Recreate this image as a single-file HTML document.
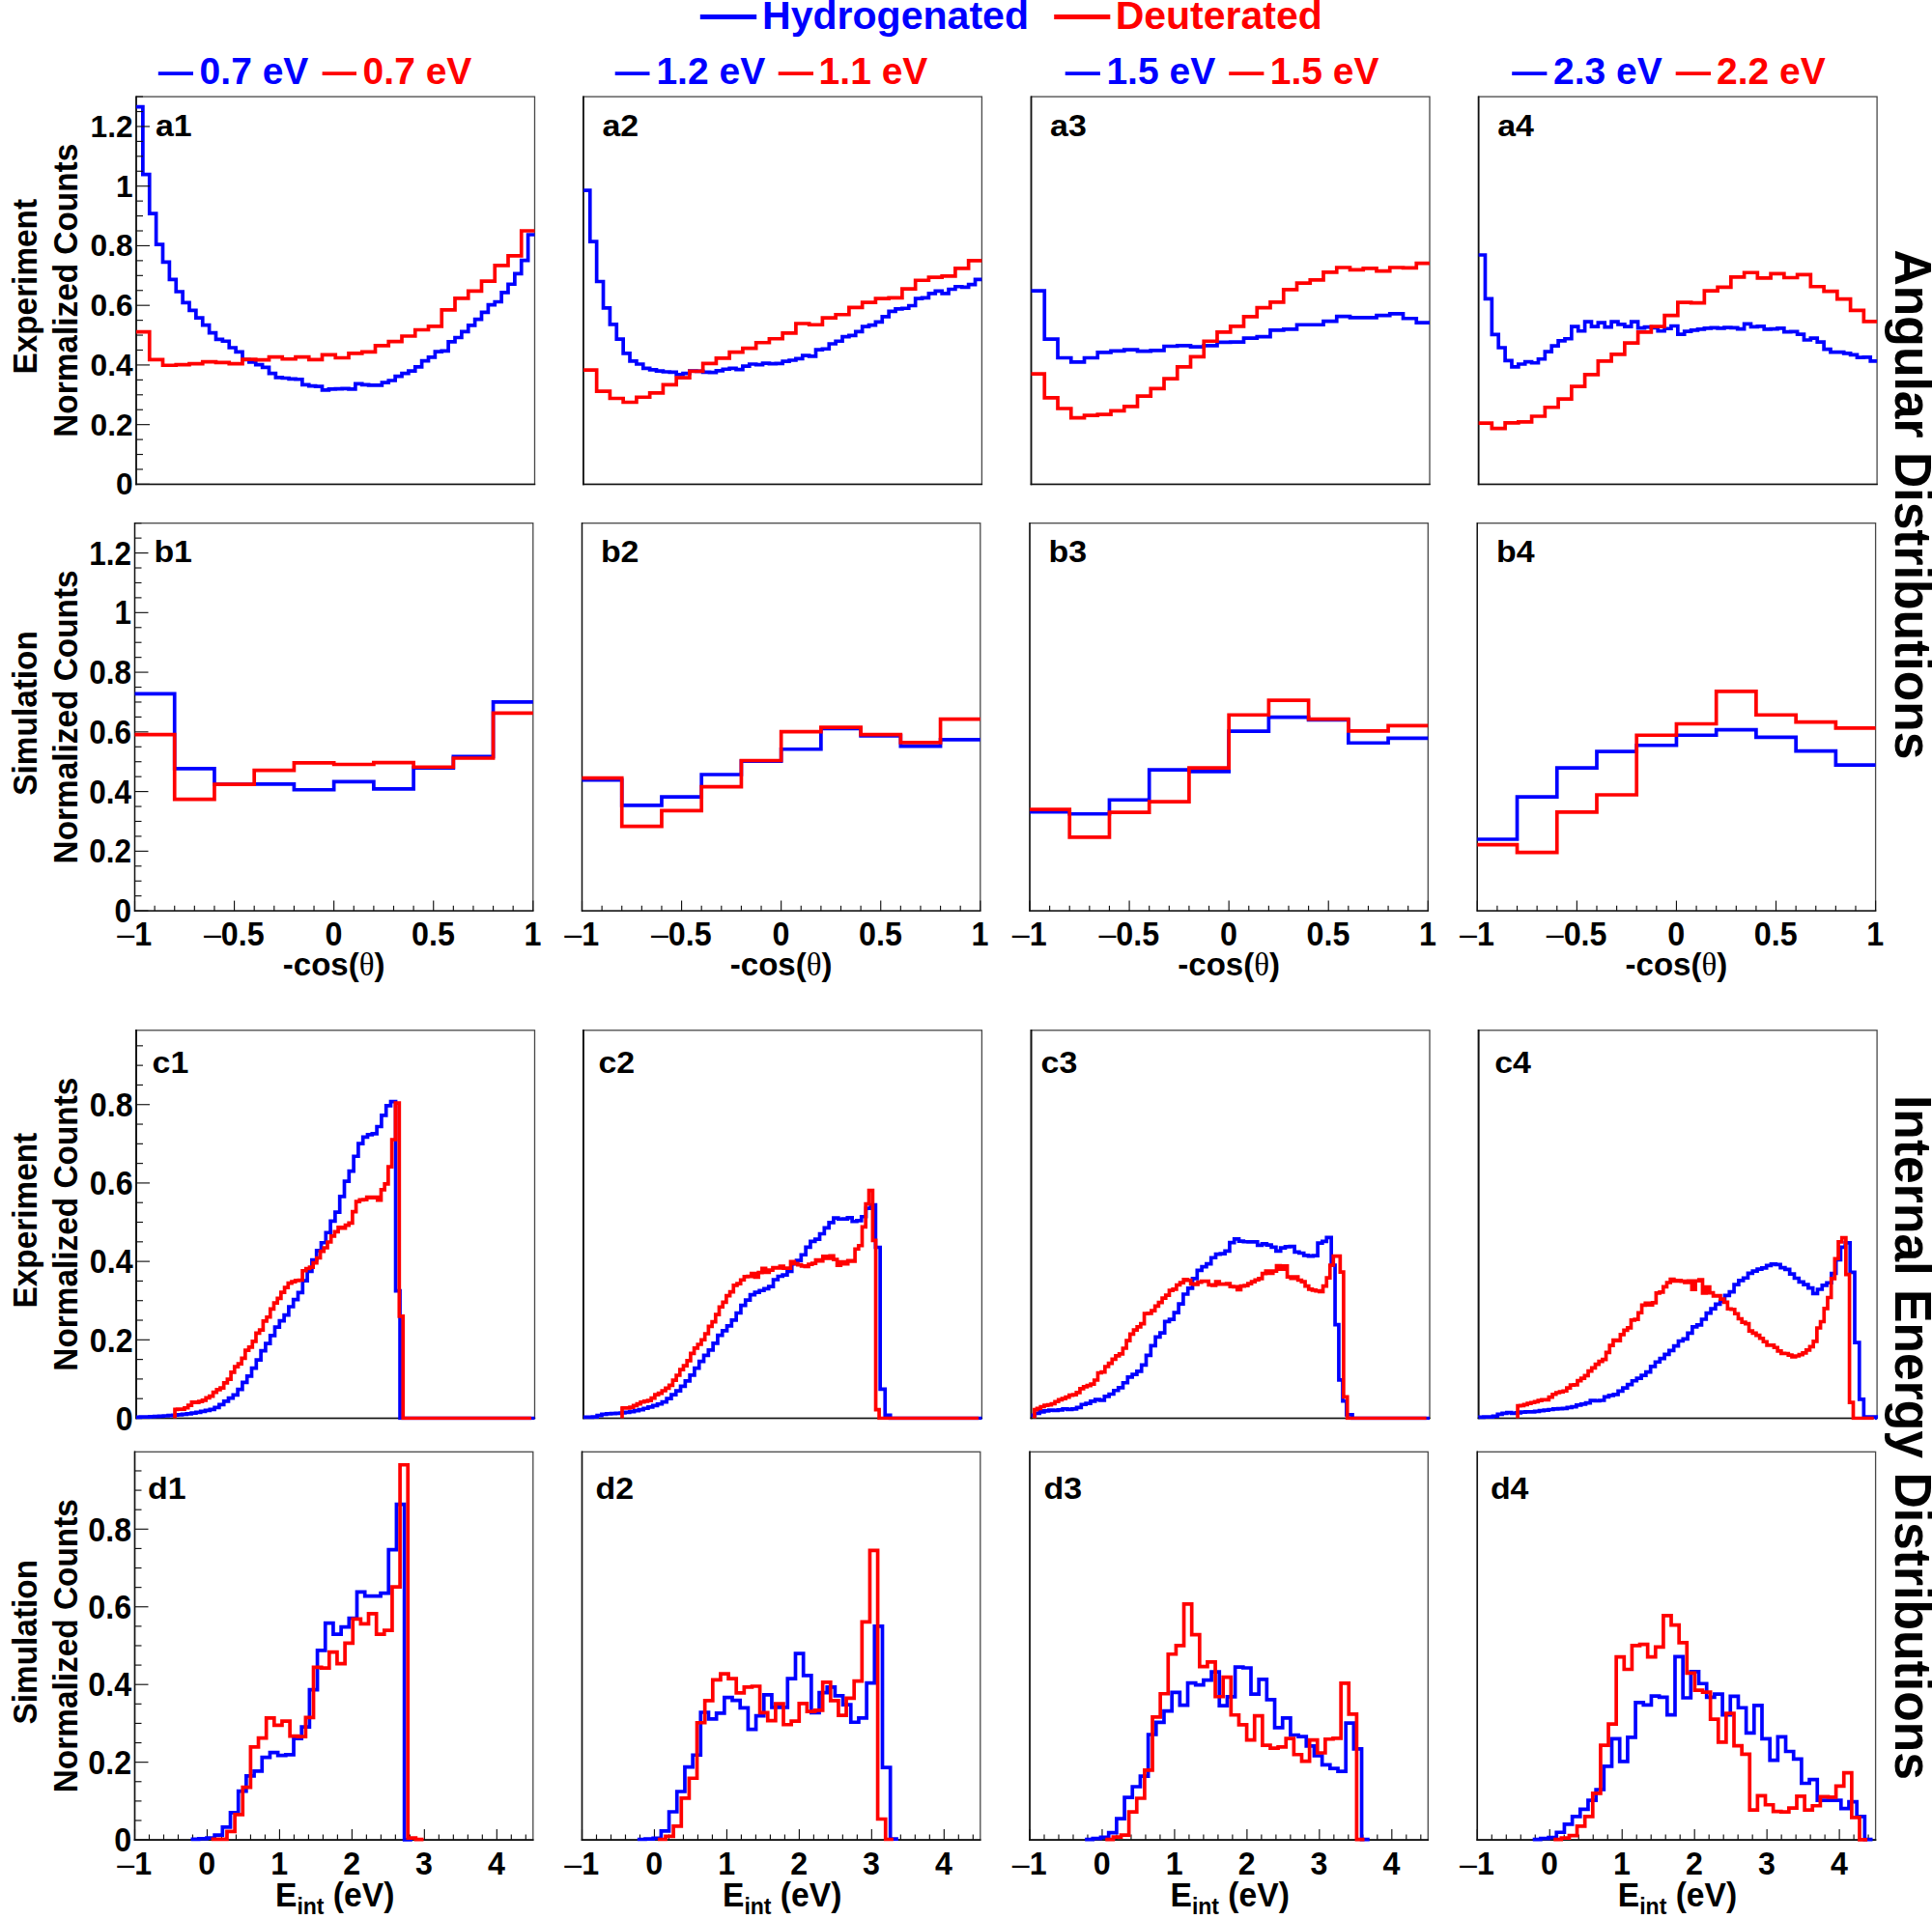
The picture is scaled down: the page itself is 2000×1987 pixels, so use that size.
<!DOCTYPE html>
<html lang="en"><head><meta charset="utf-8"><title>Angular and Internal Energy Distributions</title>
<style>html,body{margin:0;padding:0;background:#fff;}svg{display:block;}</style></head>
<body>
<svg width="2000" height="1987" viewBox="0 0 2000 1987" font-family="'Liberation Sans', Arial, Helvetica, sans-serif" font-weight="bold">
<rect x="0" y="0" width="2000" height="1987" fill="#ffffff"/>
<defs>
<clipPath id="cp_a1"><rect x="140.5" y="98.1" width="414" height="405.3"/></clipPath>
<clipPath id="cp_a2"><rect x="603.4" y="98.1" width="414" height="405.3"/></clipPath>
<clipPath id="cp_a3"><rect x="1067" y="98.1" width="414" height="405.3"/></clipPath>
<clipPath id="cp_a4"><rect x="1530.1" y="98.1" width="414" height="405.3"/></clipPath>
<clipPath id="cp_b1"><rect x="139" y="539.7" width="413.8" height="405.4"/></clipPath>
<clipPath id="cp_b2"><rect x="602" y="539.7" width="413.8" height="405.4"/></clipPath>
<clipPath id="cp_b3"><rect x="1065.5" y="539.7" width="413.8" height="405.4"/></clipPath>
<clipPath id="cp_b4"><rect x="1528.8" y="539.7" width="413.8" height="405.4"/></clipPath>
<clipPath id="cp_c1"><rect x="140.5" y="1064.8" width="414" height="405.7"/></clipPath>
<clipPath id="cp_c2"><rect x="603.4" y="1064.8" width="414" height="405.7"/></clipPath>
<clipPath id="cp_c3"><rect x="1067" y="1064.8" width="414" height="405.7"/></clipPath>
<clipPath id="cp_c4"><rect x="1530.1" y="1064.8" width="414" height="405.7"/></clipPath>
<clipPath id="cp_d1"><rect x="139" y="1501.3" width="413.8" height="405.8"/></clipPath>
<clipPath id="cp_d2"><rect x="602" y="1501.3" width="413.8" height="405.8"/></clipPath>
<clipPath id="cp_d3"><rect x="1065.5" y="1501.3" width="413.8" height="405.8"/></clipPath>
<clipPath id="cp_d4"><rect x="1528.8" y="1501.3" width="413.8" height="405.8"/></clipPath>
</defs>
<rect x="141" y="100.1" width="412.5" height="401.3" fill="none" stroke="#484848" stroke-width="1.3"/>
<line x1="141" y1="99.4" x2="141" y2="502.15" stroke="#111111" stroke-width="1.7"/>
<line x1="140.15" y1="501.4" x2="554.2" y2="501.4" stroke="#111111" stroke-width="1.5"/>
<rect x="603.9" y="100.1" width="412.5" height="401.3" fill="none" stroke="#484848" stroke-width="1.3"/>
<line x1="603.9" y1="99.4" x2="603.9" y2="502.15" stroke="#111111" stroke-width="1.7"/>
<line x1="603.05" y1="501.4" x2="1017.1" y2="501.4" stroke="#111111" stroke-width="1.5"/>
<rect x="1067.5" y="100.1" width="412.5" height="401.3" fill="none" stroke="#484848" stroke-width="1.3"/>
<line x1="1067.5" y1="99.4" x2="1067.5" y2="502.15" stroke="#111111" stroke-width="1.7"/>
<line x1="1066.65" y1="501.4" x2="1480.7" y2="501.4" stroke="#111111" stroke-width="1.5"/>
<rect x="1530.6" y="100.1" width="412.5" height="401.3" fill="none" stroke="#484848" stroke-width="1.3"/>
<line x1="1530.6" y1="99.4" x2="1530.6" y2="502.15" stroke="#111111" stroke-width="1.7"/>
<line x1="1529.75" y1="501.4" x2="1943.8" y2="501.4" stroke="#111111" stroke-width="1.5"/>
<text transform="translate(137.6 512.35)" font-size="31.7" text-anchor="end">0</text>
<text transform="translate(137.6 450.61)" font-size="31.7" text-anchor="end">0.2</text>
<text transform="translate(137.6 388.87)" font-size="31.7" text-anchor="end">0.4</text>
<text transform="translate(137.6 327.13)" font-size="31.7" text-anchor="end">0.6</text>
<text transform="translate(137.6 265.39)" font-size="31.7" text-anchor="end">0.8</text>
<text transform="translate(137.6 203.66)" font-size="31.7" text-anchor="end">1</text>
<text transform="translate(137.6 141.92)" font-size="31.7" text-anchor="end">1.2</text>
<rect x="139.5" y="541.7" width="412.3" height="401.4" fill="none" stroke="#484848" stroke-width="1.3"/>
<line x1="139.5" y1="541" x2="139.5" y2="943.7" stroke="#111111" stroke-width="1.3"/>
<line x1="138.85" y1="943.1" x2="552.5" y2="943.1" stroke="#111111" stroke-width="1.2"/>
<rect x="602.5" y="541.7" width="412.3" height="401.4" fill="none" stroke="#484848" stroke-width="1.3"/>
<line x1="602.5" y1="541" x2="602.5" y2="943.7" stroke="#111111" stroke-width="1.3"/>
<line x1="601.85" y1="943.1" x2="1015.5" y2="943.1" stroke="#111111" stroke-width="1.2"/>
<rect x="1066" y="541.7" width="412.3" height="401.4" fill="none" stroke="#484848" stroke-width="1.3"/>
<line x1="1066" y1="541" x2="1066" y2="943.7" stroke="#111111" stroke-width="1.3"/>
<line x1="1065.35" y1="943.1" x2="1479" y2="943.1" stroke="#111111" stroke-width="1.2"/>
<rect x="1529.3" y="541.7" width="412.3" height="401.4" fill="none" stroke="#484848" stroke-width="1.3"/>
<line x1="1529.3" y1="541" x2="1529.3" y2="943.7" stroke="#111111" stroke-width="1.3"/>
<line x1="1528.65" y1="943.1" x2="1942.3" y2="943.1" stroke="#111111" stroke-width="1.2"/>
<line x1="139.5" y1="943.1" x2="153.5" y2="943.1" stroke="#111111" stroke-width="1.15"/>
<line x1="139.5" y1="927.66" x2="146.5" y2="927.66" stroke="#111111" stroke-width="1.15"/>
<line x1="139.5" y1="912.22" x2="146.5" y2="912.22" stroke="#111111" stroke-width="1.15"/>
<line x1="139.5" y1="896.78" x2="146.5" y2="896.78" stroke="#111111" stroke-width="1.15"/>
<line x1="139.5" y1="881.35" x2="153.5" y2="881.35" stroke="#111111" stroke-width="1.15"/>
<line x1="139.5" y1="865.91" x2="146.5" y2="865.91" stroke="#111111" stroke-width="1.15"/>
<line x1="139.5" y1="850.47" x2="146.5" y2="850.47" stroke="#111111" stroke-width="1.15"/>
<line x1="139.5" y1="835.03" x2="146.5" y2="835.03" stroke="#111111" stroke-width="1.15"/>
<line x1="139.5" y1="819.59" x2="153.5" y2="819.59" stroke="#111111" stroke-width="1.15"/>
<line x1="139.5" y1="804.15" x2="146.5" y2="804.15" stroke="#111111" stroke-width="1.15"/>
<line x1="139.5" y1="788.72" x2="146.5" y2="788.72" stroke="#111111" stroke-width="1.15"/>
<line x1="139.5" y1="773.28" x2="146.5" y2="773.28" stroke="#111111" stroke-width="1.15"/>
<line x1="139.5" y1="757.84" x2="153.5" y2="757.84" stroke="#111111" stroke-width="1.15"/>
<line x1="139.5" y1="742.4" x2="146.5" y2="742.4" stroke="#111111" stroke-width="1.15"/>
<line x1="139.5" y1="726.96" x2="146.5" y2="726.96" stroke="#111111" stroke-width="1.15"/>
<line x1="139.5" y1="711.52" x2="146.5" y2="711.52" stroke="#111111" stroke-width="1.15"/>
<line x1="139.5" y1="696.08" x2="153.5" y2="696.08" stroke="#111111" stroke-width="1.15"/>
<line x1="139.5" y1="680.65" x2="146.5" y2="680.65" stroke="#111111" stroke-width="1.15"/>
<line x1="139.5" y1="665.21" x2="146.5" y2="665.21" stroke="#111111" stroke-width="1.15"/>
<line x1="139.5" y1="649.77" x2="146.5" y2="649.77" stroke="#111111" stroke-width="1.15"/>
<line x1="139.5" y1="634.33" x2="153.5" y2="634.33" stroke="#111111" stroke-width="1.15"/>
<line x1="139.5" y1="618.89" x2="146.5" y2="618.89" stroke="#111111" stroke-width="1.15"/>
<line x1="139.5" y1="603.45" x2="146.5" y2="603.45" stroke="#111111" stroke-width="1.15"/>
<line x1="139.5" y1="588.02" x2="146.5" y2="588.02" stroke="#111111" stroke-width="1.15"/>
<line x1="139.5" y1="572.58" x2="153.5" y2="572.58" stroke="#111111" stroke-width="1.15"/>
<line x1="139.5" y1="557.14" x2="146.5" y2="557.14" stroke="#111111" stroke-width="1.15"/>
<line x1="139.5" y1="541.7" x2="146.5" y2="541.7" stroke="#111111" stroke-width="1.15"/>
<text transform="translate(136.1 955.09) scale(0.9100 1)" font-size="34.6" text-anchor="end">0</text>
<text transform="translate(136.1 893.33) scale(0.9100 1)" font-size="34.6" text-anchor="end">0.2</text>
<text transform="translate(136.1 831.58) scale(0.9100 1)" font-size="34.6" text-anchor="end">0.4</text>
<text transform="translate(136.1 769.83) scale(0.9100 1)" font-size="34.6" text-anchor="end">0.6</text>
<text transform="translate(136.1 708.07) scale(0.9100 1)" font-size="34.6" text-anchor="end">0.8</text>
<text transform="translate(136.1 646.32) scale(0.9100 1)" font-size="34.6" text-anchor="end">1</text>
<text transform="translate(136.1 584.56) scale(0.9100 1)" font-size="34.6" text-anchor="end">1.2</text>
<rect x="141" y="1066.8" width="412.5" height="401.7" fill="none" stroke="#484848" stroke-width="1.3"/>
<line x1="141" y1="1066.1" x2="141" y2="1469.25" stroke="#111111" stroke-width="1.9"/>
<line x1="140.05" y1="1468.5" x2="554.2" y2="1468.5" stroke="#111111" stroke-width="1.5"/>
<rect x="603.9" y="1066.8" width="412.5" height="401.7" fill="none" stroke="#484848" stroke-width="1.3"/>
<line x1="603.9" y1="1066.1" x2="603.9" y2="1469.25" stroke="#111111" stroke-width="1.9"/>
<line x1="602.95" y1="1468.5" x2="1017.1" y2="1468.5" stroke="#111111" stroke-width="1.5"/>
<rect x="1067.5" y="1066.8" width="412.5" height="401.7" fill="none" stroke="#484848" stroke-width="1.3"/>
<line x1="1067.5" y1="1066.1" x2="1067.5" y2="1469.25" stroke="#111111" stroke-width="1.9"/>
<line x1="1066.55" y1="1468.5" x2="1480.7" y2="1468.5" stroke="#111111" stroke-width="1.5"/>
<rect x="1530.6" y="1066.8" width="412.5" height="401.7" fill="none" stroke="#484848" stroke-width="1.3"/>
<line x1="1530.6" y1="1066.1" x2="1530.6" y2="1469.25" stroke="#111111" stroke-width="1.9"/>
<line x1="1529.65" y1="1468.5" x2="1943.8" y2="1468.5" stroke="#111111" stroke-width="1.5"/>
<line x1="141" y1="1468.5" x2="155" y2="1468.5" stroke="#111111" stroke-width="1.15"/>
<line x1="141" y1="1448.2" x2="148" y2="1448.2" stroke="#111111" stroke-width="1.15"/>
<line x1="141" y1="1427.9" x2="148" y2="1427.9" stroke="#111111" stroke-width="1.15"/>
<line x1="141" y1="1407.61" x2="148" y2="1407.61" stroke="#111111" stroke-width="1.15"/>
<line x1="141" y1="1387.31" x2="155" y2="1387.31" stroke="#111111" stroke-width="1.15"/>
<line x1="141" y1="1367.01" x2="148" y2="1367.01" stroke="#111111" stroke-width="1.15"/>
<line x1="141" y1="1346.71" x2="148" y2="1346.71" stroke="#111111" stroke-width="1.15"/>
<line x1="141" y1="1326.41" x2="148" y2="1326.41" stroke="#111111" stroke-width="1.15"/>
<line x1="141" y1="1306.11" x2="155" y2="1306.11" stroke="#111111" stroke-width="1.15"/>
<line x1="141" y1="1285.82" x2="148" y2="1285.82" stroke="#111111" stroke-width="1.15"/>
<line x1="141" y1="1265.52" x2="148" y2="1265.52" stroke="#111111" stroke-width="1.15"/>
<line x1="141" y1="1245.22" x2="148" y2="1245.22" stroke="#111111" stroke-width="1.15"/>
<line x1="141" y1="1224.92" x2="155" y2="1224.92" stroke="#111111" stroke-width="1.15"/>
<line x1="141" y1="1204.62" x2="148" y2="1204.62" stroke="#111111" stroke-width="1.15"/>
<line x1="141" y1="1184.33" x2="148" y2="1184.33" stroke="#111111" stroke-width="1.15"/>
<line x1="141" y1="1164.03" x2="148" y2="1164.03" stroke="#111111" stroke-width="1.15"/>
<line x1="141" y1="1143.73" x2="155" y2="1143.73" stroke="#111111" stroke-width="1.15"/>
<line x1="141" y1="1123.43" x2="148" y2="1123.43" stroke="#111111" stroke-width="1.15"/>
<line x1="141" y1="1103.13" x2="148" y2="1103.13" stroke="#111111" stroke-width="1.15"/>
<line x1="141" y1="1082.84" x2="148" y2="1082.84" stroke="#111111" stroke-width="1.15"/>
<text transform="translate(137.6 1480.77) scale(0.9100 1)" font-size="35.4" text-anchor="end">0</text>
<text transform="translate(137.6 1399.58) scale(0.9100 1)" font-size="35.4" text-anchor="end">0.2</text>
<text transform="translate(137.6 1318.39) scale(0.9100 1)" font-size="35.4" text-anchor="end">0.4</text>
<text transform="translate(137.6 1237.2) scale(0.9100 1)" font-size="35.4" text-anchor="end">0.6</text>
<text transform="translate(137.6 1156) scale(0.9100 1)" font-size="35.4" text-anchor="end">0.8</text>
<rect x="139.5" y="1503.3" width="412.3" height="401.8" fill="none" stroke="#484848" stroke-width="1.3"/>
<line x1="139.5" y1="1502.6" x2="139.5" y2="1905.9" stroke="#111111" stroke-width="1.5"/>
<line x1="138.75" y1="1905.1" x2="552.5" y2="1905.1" stroke="#111111" stroke-width="1.6"/>
<rect x="602.5" y="1503.3" width="412.3" height="401.8" fill="none" stroke="#484848" stroke-width="1.3"/>
<line x1="602.5" y1="1502.6" x2="602.5" y2="1905.9" stroke="#111111" stroke-width="1.5"/>
<line x1="601.75" y1="1905.1" x2="1015.5" y2="1905.1" stroke="#111111" stroke-width="1.6"/>
<rect x="1066" y="1503.3" width="412.3" height="401.8" fill="none" stroke="#484848" stroke-width="1.3"/>
<line x1="1066" y1="1502.6" x2="1066" y2="1905.9" stroke="#111111" stroke-width="1.5"/>
<line x1="1065.25" y1="1905.1" x2="1479" y2="1905.1" stroke="#111111" stroke-width="1.6"/>
<rect x="1529.3" y="1503.3" width="412.3" height="401.8" fill="none" stroke="#484848" stroke-width="1.3"/>
<line x1="1529.3" y1="1502.6" x2="1529.3" y2="1905.9" stroke="#111111" stroke-width="1.5"/>
<line x1="1528.55" y1="1905.1" x2="1942.3" y2="1905.1" stroke="#111111" stroke-width="1.6"/>
<line x1="139.5" y1="1905.1" x2="153.5" y2="1905.1" stroke="#111111" stroke-width="1.15"/>
<line x1="139.5" y1="1884.99" x2="146.5" y2="1884.99" stroke="#111111" stroke-width="1.15"/>
<line x1="139.5" y1="1864.88" x2="146.5" y2="1864.88" stroke="#111111" stroke-width="1.15"/>
<line x1="139.5" y1="1844.76" x2="146.5" y2="1844.76" stroke="#111111" stroke-width="1.15"/>
<line x1="139.5" y1="1824.65" x2="153.5" y2="1824.65" stroke="#111111" stroke-width="1.15"/>
<line x1="139.5" y1="1804.54" x2="146.5" y2="1804.54" stroke="#111111" stroke-width="1.15"/>
<line x1="139.5" y1="1784.43" x2="146.5" y2="1784.43" stroke="#111111" stroke-width="1.15"/>
<line x1="139.5" y1="1764.32" x2="146.5" y2="1764.32" stroke="#111111" stroke-width="1.15"/>
<line x1="139.5" y1="1744.2" x2="153.5" y2="1744.2" stroke="#111111" stroke-width="1.15"/>
<line x1="139.5" y1="1724.09" x2="146.5" y2="1724.09" stroke="#111111" stroke-width="1.15"/>
<line x1="139.5" y1="1703.98" x2="146.5" y2="1703.98" stroke="#111111" stroke-width="1.15"/>
<line x1="139.5" y1="1683.87" x2="146.5" y2="1683.87" stroke="#111111" stroke-width="1.15"/>
<line x1="139.5" y1="1663.75" x2="153.5" y2="1663.75" stroke="#111111" stroke-width="1.15"/>
<line x1="139.5" y1="1643.64" x2="146.5" y2="1643.64" stroke="#111111" stroke-width="1.15"/>
<line x1="139.5" y1="1623.53" x2="146.5" y2="1623.53" stroke="#111111" stroke-width="1.15"/>
<line x1="139.5" y1="1603.42" x2="146.5" y2="1603.42" stroke="#111111" stroke-width="1.15"/>
<line x1="139.5" y1="1583.31" x2="153.5" y2="1583.31" stroke="#111111" stroke-width="1.15"/>
<line x1="139.5" y1="1563.19" x2="146.5" y2="1563.19" stroke="#111111" stroke-width="1.15"/>
<line x1="139.5" y1="1543.08" x2="146.5" y2="1543.08" stroke="#111111" stroke-width="1.15"/>
<line x1="139.5" y1="1522.97" x2="146.5" y2="1522.97" stroke="#111111" stroke-width="1.15"/>
<text transform="translate(136.1 1917.37) scale(0.9100 1)" font-size="35.4" text-anchor="end">0</text>
<text transform="translate(136.1 1836.92) scale(0.9100 1)" font-size="35.4" text-anchor="end">0.2</text>
<text transform="translate(136.1 1756.48) scale(0.9100 1)" font-size="35.4" text-anchor="end">0.4</text>
<text transform="translate(136.1 1676.03) scale(0.9100 1)" font-size="35.4" text-anchor="end">0.6</text>
<text transform="translate(136.1 1595.58) scale(0.9100 1)" font-size="35.4" text-anchor="end">0.8</text>
<line x1="139.5" y1="943.1" x2="139.5" y2="932.6" stroke="#111111" stroke-width="1.15"/>
<line x1="160.12" y1="943.1" x2="160.12" y2="937.8" stroke="#111111" stroke-width="1.15"/>
<line x1="180.73" y1="943.1" x2="180.73" y2="937.8" stroke="#111111" stroke-width="1.15"/>
<line x1="201.34" y1="943.1" x2="201.34" y2="937.8" stroke="#111111" stroke-width="1.15"/>
<line x1="221.96" y1="943.1" x2="221.96" y2="937.8" stroke="#111111" stroke-width="1.15"/>
<line x1="242.57" y1="943.1" x2="242.57" y2="932.6" stroke="#111111" stroke-width="1.15"/>
<line x1="263.19" y1="943.1" x2="263.19" y2="937.8" stroke="#111111" stroke-width="1.15"/>
<line x1="283.81" y1="943.1" x2="283.81" y2="937.8" stroke="#111111" stroke-width="1.15"/>
<line x1="304.42" y1="943.1" x2="304.42" y2="937.8" stroke="#111111" stroke-width="1.15"/>
<line x1="325.04" y1="943.1" x2="325.04" y2="937.8" stroke="#111111" stroke-width="1.15"/>
<line x1="345.65" y1="943.1" x2="345.65" y2="932.6" stroke="#111111" stroke-width="1.15"/>
<line x1="366.26" y1="943.1" x2="366.26" y2="937.8" stroke="#111111" stroke-width="1.15"/>
<line x1="386.88" y1="943.1" x2="386.88" y2="937.8" stroke="#111111" stroke-width="1.15"/>
<line x1="407.5" y1="943.1" x2="407.5" y2="937.8" stroke="#111111" stroke-width="1.15"/>
<line x1="428.11" y1="943.1" x2="428.11" y2="937.8" stroke="#111111" stroke-width="1.15"/>
<line x1="448.73" y1="943.1" x2="448.73" y2="932.6" stroke="#111111" stroke-width="1.15"/>
<line x1="469.34" y1="943.1" x2="469.34" y2="937.8" stroke="#111111" stroke-width="1.15"/>
<line x1="489.96" y1="943.1" x2="489.96" y2="937.8" stroke="#111111" stroke-width="1.15"/>
<line x1="510.57" y1="943.1" x2="510.57" y2="937.8" stroke="#111111" stroke-width="1.15"/>
<line x1="531.18" y1="943.1" x2="531.18" y2="937.8" stroke="#111111" stroke-width="1.15"/>
<line x1="551.8" y1="943.1" x2="551.8" y2="932.6" stroke="#111111" stroke-width="1.15"/>
<text transform="translate(139.2 978.6) scale(0.9100 1)" font-size="35.4" text-anchor="middle"><tspan font-weight="normal">–</tspan>1</text>
<text transform="translate(242.27 978.6) scale(0.9100 1)" font-size="35.4" text-anchor="middle"><tspan font-weight="normal">–</tspan>0.5</text>
<text transform="translate(345.35 978.6) scale(0.9100 1)" font-size="35.4" text-anchor="middle">0</text>
<text transform="translate(448.43 978.6) scale(0.9100 1)" font-size="35.4" text-anchor="middle">0.5</text>
<text transform="translate(551.5 978.6) scale(0.9100 1)" font-size="35.4" text-anchor="middle">1</text>
<text transform="translate(345.65 1010)" font-size="33" text-anchor="middle">-cos(<tspan font-family="'Liberation Serif', 'DejaVu Serif', serif" font-weight="normal">θ</tspan>)</text>
<line x1="602.5" y1="943.1" x2="602.5" y2="932.6" stroke="#111111" stroke-width="1.15"/>
<line x1="623.12" y1="943.1" x2="623.12" y2="937.8" stroke="#111111" stroke-width="1.15"/>
<line x1="643.73" y1="943.1" x2="643.73" y2="937.8" stroke="#111111" stroke-width="1.15"/>
<line x1="664.35" y1="943.1" x2="664.35" y2="937.8" stroke="#111111" stroke-width="1.15"/>
<line x1="684.96" y1="943.1" x2="684.96" y2="937.8" stroke="#111111" stroke-width="1.15"/>
<line x1="705.58" y1="943.1" x2="705.58" y2="932.6" stroke="#111111" stroke-width="1.15"/>
<line x1="726.19" y1="943.1" x2="726.19" y2="937.8" stroke="#111111" stroke-width="1.15"/>
<line x1="746.81" y1="943.1" x2="746.81" y2="937.8" stroke="#111111" stroke-width="1.15"/>
<line x1="767.42" y1="943.1" x2="767.42" y2="937.8" stroke="#111111" stroke-width="1.15"/>
<line x1="788.04" y1="943.1" x2="788.04" y2="937.8" stroke="#111111" stroke-width="1.15"/>
<line x1="808.65" y1="943.1" x2="808.65" y2="932.6" stroke="#111111" stroke-width="1.15"/>
<line x1="829.26" y1="943.1" x2="829.26" y2="937.8" stroke="#111111" stroke-width="1.15"/>
<line x1="849.88" y1="943.1" x2="849.88" y2="937.8" stroke="#111111" stroke-width="1.15"/>
<line x1="870.5" y1="943.1" x2="870.5" y2="937.8" stroke="#111111" stroke-width="1.15"/>
<line x1="891.11" y1="943.1" x2="891.11" y2="937.8" stroke="#111111" stroke-width="1.15"/>
<line x1="911.73" y1="943.1" x2="911.73" y2="932.6" stroke="#111111" stroke-width="1.15"/>
<line x1="932.34" y1="943.1" x2="932.34" y2="937.8" stroke="#111111" stroke-width="1.15"/>
<line x1="952.96" y1="943.1" x2="952.96" y2="937.8" stroke="#111111" stroke-width="1.15"/>
<line x1="973.57" y1="943.1" x2="973.57" y2="937.8" stroke="#111111" stroke-width="1.15"/>
<line x1="994.18" y1="943.1" x2="994.18" y2="937.8" stroke="#111111" stroke-width="1.15"/>
<line x1="1014.8" y1="943.1" x2="1014.8" y2="932.6" stroke="#111111" stroke-width="1.15"/>
<text transform="translate(602.2 978.6) scale(0.9100 1)" font-size="35.4" text-anchor="middle"><tspan font-weight="normal">–</tspan>1</text>
<text transform="translate(705.28 978.6) scale(0.9100 1)" font-size="35.4" text-anchor="middle"><tspan font-weight="normal">–</tspan>0.5</text>
<text transform="translate(808.35 978.6) scale(0.9100 1)" font-size="35.4" text-anchor="middle">0</text>
<text transform="translate(911.43 978.6) scale(0.9100 1)" font-size="35.4" text-anchor="middle">0.5</text>
<text transform="translate(1014.5 978.6) scale(0.9100 1)" font-size="35.4" text-anchor="middle">1</text>
<text transform="translate(808.65 1010)" font-size="33" text-anchor="middle">-cos(<tspan font-family="'Liberation Serif', 'DejaVu Serif', serif" font-weight="normal">θ</tspan>)</text>
<line x1="1066" y1="943.1" x2="1066" y2="932.6" stroke="#111111" stroke-width="1.15"/>
<line x1="1086.62" y1="943.1" x2="1086.62" y2="937.8" stroke="#111111" stroke-width="1.15"/>
<line x1="1107.23" y1="943.1" x2="1107.23" y2="937.8" stroke="#111111" stroke-width="1.15"/>
<line x1="1127.85" y1="943.1" x2="1127.85" y2="937.8" stroke="#111111" stroke-width="1.15"/>
<line x1="1148.46" y1="943.1" x2="1148.46" y2="937.8" stroke="#111111" stroke-width="1.15"/>
<line x1="1169.08" y1="943.1" x2="1169.08" y2="932.6" stroke="#111111" stroke-width="1.15"/>
<line x1="1189.69" y1="943.1" x2="1189.69" y2="937.8" stroke="#111111" stroke-width="1.15"/>
<line x1="1210.31" y1="943.1" x2="1210.31" y2="937.8" stroke="#111111" stroke-width="1.15"/>
<line x1="1230.92" y1="943.1" x2="1230.92" y2="937.8" stroke="#111111" stroke-width="1.15"/>
<line x1="1251.54" y1="943.1" x2="1251.54" y2="937.8" stroke="#111111" stroke-width="1.15"/>
<line x1="1272.15" y1="943.1" x2="1272.15" y2="932.6" stroke="#111111" stroke-width="1.15"/>
<line x1="1292.77" y1="943.1" x2="1292.77" y2="937.8" stroke="#111111" stroke-width="1.15"/>
<line x1="1313.38" y1="943.1" x2="1313.38" y2="937.8" stroke="#111111" stroke-width="1.15"/>
<line x1="1333.99" y1="943.1" x2="1333.99" y2="937.8" stroke="#111111" stroke-width="1.15"/>
<line x1="1354.61" y1="943.1" x2="1354.61" y2="937.8" stroke="#111111" stroke-width="1.15"/>
<line x1="1375.22" y1="943.1" x2="1375.22" y2="932.6" stroke="#111111" stroke-width="1.15"/>
<line x1="1395.84" y1="943.1" x2="1395.84" y2="937.8" stroke="#111111" stroke-width="1.15"/>
<line x1="1416.45" y1="943.1" x2="1416.45" y2="937.8" stroke="#111111" stroke-width="1.15"/>
<line x1="1437.07" y1="943.1" x2="1437.07" y2="937.8" stroke="#111111" stroke-width="1.15"/>
<line x1="1457.68" y1="943.1" x2="1457.68" y2="937.8" stroke="#111111" stroke-width="1.15"/>
<line x1="1478.3" y1="943.1" x2="1478.3" y2="932.6" stroke="#111111" stroke-width="1.15"/>
<text transform="translate(1065.7 978.6) scale(0.9100 1)" font-size="35.4" text-anchor="middle"><tspan font-weight="normal">–</tspan>1</text>
<text transform="translate(1168.78 978.6) scale(0.9100 1)" font-size="35.4" text-anchor="middle"><tspan font-weight="normal">–</tspan>0.5</text>
<text transform="translate(1271.85 978.6) scale(0.9100 1)" font-size="35.4" text-anchor="middle">0</text>
<text transform="translate(1374.92 978.6) scale(0.9100 1)" font-size="35.4" text-anchor="middle">0.5</text>
<text transform="translate(1478 978.6) scale(0.9100 1)" font-size="35.4" text-anchor="middle">1</text>
<text transform="translate(1272.15 1010)" font-size="33" text-anchor="middle">-cos(<tspan font-family="'Liberation Serif', 'DejaVu Serif', serif" font-weight="normal">θ</tspan>)</text>
<line x1="1529.3" y1="943.1" x2="1529.3" y2="932.6" stroke="#111111" stroke-width="1.15"/>
<line x1="1549.91" y1="943.1" x2="1549.91" y2="937.8" stroke="#111111" stroke-width="1.15"/>
<line x1="1570.53" y1="943.1" x2="1570.53" y2="937.8" stroke="#111111" stroke-width="1.15"/>
<line x1="1591.14" y1="943.1" x2="1591.14" y2="937.8" stroke="#111111" stroke-width="1.15"/>
<line x1="1611.76" y1="943.1" x2="1611.76" y2="937.8" stroke="#111111" stroke-width="1.15"/>
<line x1="1632.38" y1="943.1" x2="1632.38" y2="932.6" stroke="#111111" stroke-width="1.15"/>
<line x1="1652.99" y1="943.1" x2="1652.99" y2="937.8" stroke="#111111" stroke-width="1.15"/>
<line x1="1673.61" y1="943.1" x2="1673.61" y2="937.8" stroke="#111111" stroke-width="1.15"/>
<line x1="1694.22" y1="943.1" x2="1694.22" y2="937.8" stroke="#111111" stroke-width="1.15"/>
<line x1="1714.84" y1="943.1" x2="1714.84" y2="937.8" stroke="#111111" stroke-width="1.15"/>
<line x1="1735.45" y1="943.1" x2="1735.45" y2="932.6" stroke="#111111" stroke-width="1.15"/>
<line x1="1756.07" y1="943.1" x2="1756.07" y2="937.8" stroke="#111111" stroke-width="1.15"/>
<line x1="1776.68" y1="943.1" x2="1776.68" y2="937.8" stroke="#111111" stroke-width="1.15"/>
<line x1="1797.3" y1="943.1" x2="1797.3" y2="937.8" stroke="#111111" stroke-width="1.15"/>
<line x1="1817.91" y1="943.1" x2="1817.91" y2="937.8" stroke="#111111" stroke-width="1.15"/>
<line x1="1838.53" y1="943.1" x2="1838.53" y2="932.6" stroke="#111111" stroke-width="1.15"/>
<line x1="1859.14" y1="943.1" x2="1859.14" y2="937.8" stroke="#111111" stroke-width="1.15"/>
<line x1="1879.76" y1="943.1" x2="1879.76" y2="937.8" stroke="#111111" stroke-width="1.15"/>
<line x1="1900.37" y1="943.1" x2="1900.37" y2="937.8" stroke="#111111" stroke-width="1.15"/>
<line x1="1920.98" y1="943.1" x2="1920.98" y2="937.8" stroke="#111111" stroke-width="1.15"/>
<line x1="1941.6" y1="943.1" x2="1941.6" y2="932.6" stroke="#111111" stroke-width="1.15"/>
<text transform="translate(1529 978.6) scale(0.9100 1)" font-size="35.4" text-anchor="middle"><tspan font-weight="normal">–</tspan>1</text>
<text transform="translate(1632.08 978.6) scale(0.9100 1)" font-size="35.4" text-anchor="middle"><tspan font-weight="normal">–</tspan>0.5</text>
<text transform="translate(1735.15 978.6) scale(0.9100 1)" font-size="35.4" text-anchor="middle">0</text>
<text transform="translate(1838.23 978.6) scale(0.9100 1)" font-size="35.4" text-anchor="middle">0.5</text>
<text transform="translate(1941.3 978.6) scale(0.9100 1)" font-size="35.4" text-anchor="middle">1</text>
<text transform="translate(1735.45 1010)" font-size="33" text-anchor="middle">-cos(<tspan font-family="'Liberation Serif', 'DejaVu Serif', serif" font-weight="normal">θ</tspan>)</text>
<line x1="139.5" y1="1905.1" x2="139.5" y2="1894.1" stroke="#111111" stroke-width="1.15"/>
<line x1="154.49" y1="1905.1" x2="154.49" y2="1899.5" stroke="#111111" stroke-width="1.15"/>
<line x1="169.49" y1="1905.1" x2="169.49" y2="1899.5" stroke="#111111" stroke-width="1.15"/>
<line x1="184.48" y1="1905.1" x2="184.48" y2="1899.5" stroke="#111111" stroke-width="1.15"/>
<line x1="199.47" y1="1905.1" x2="199.47" y2="1899.5" stroke="#111111" stroke-width="1.15"/>
<line x1="214.46" y1="1905.1" x2="214.46" y2="1894.1" stroke="#111111" stroke-width="1.15"/>
<line x1="229.46" y1="1905.1" x2="229.46" y2="1899.5" stroke="#111111" stroke-width="1.15"/>
<line x1="244.45" y1="1905.1" x2="244.45" y2="1899.5" stroke="#111111" stroke-width="1.15"/>
<line x1="259.44" y1="1905.1" x2="259.44" y2="1899.5" stroke="#111111" stroke-width="1.15"/>
<line x1="274.43" y1="1905.1" x2="274.43" y2="1899.5" stroke="#111111" stroke-width="1.15"/>
<line x1="289.43" y1="1905.1" x2="289.43" y2="1894.1" stroke="#111111" stroke-width="1.15"/>
<line x1="304.42" y1="1905.1" x2="304.42" y2="1899.5" stroke="#111111" stroke-width="1.15"/>
<line x1="319.41" y1="1905.1" x2="319.41" y2="1899.5" stroke="#111111" stroke-width="1.15"/>
<line x1="334.41" y1="1905.1" x2="334.41" y2="1899.5" stroke="#111111" stroke-width="1.15"/>
<line x1="349.4" y1="1905.1" x2="349.4" y2="1899.5" stroke="#111111" stroke-width="1.15"/>
<line x1="364.39" y1="1905.1" x2="364.39" y2="1894.1" stroke="#111111" stroke-width="1.15"/>
<line x1="379.38" y1="1905.1" x2="379.38" y2="1899.5" stroke="#111111" stroke-width="1.15"/>
<line x1="394.38" y1="1905.1" x2="394.38" y2="1899.5" stroke="#111111" stroke-width="1.15"/>
<line x1="409.37" y1="1905.1" x2="409.37" y2="1899.5" stroke="#111111" stroke-width="1.15"/>
<line x1="424.36" y1="1905.1" x2="424.36" y2="1899.5" stroke="#111111" stroke-width="1.15"/>
<line x1="439.35" y1="1905.1" x2="439.35" y2="1894.1" stroke="#111111" stroke-width="1.15"/>
<line x1="454.35" y1="1905.1" x2="454.35" y2="1899.5" stroke="#111111" stroke-width="1.15"/>
<line x1="469.34" y1="1905.1" x2="469.34" y2="1899.5" stroke="#111111" stroke-width="1.15"/>
<line x1="484.33" y1="1905.1" x2="484.33" y2="1899.5" stroke="#111111" stroke-width="1.15"/>
<line x1="499.33" y1="1905.1" x2="499.33" y2="1899.5" stroke="#111111" stroke-width="1.15"/>
<line x1="514.32" y1="1905.1" x2="514.32" y2="1894.1" stroke="#111111" stroke-width="1.15"/>
<line x1="529.31" y1="1905.1" x2="529.31" y2="1899.5" stroke="#111111" stroke-width="1.15"/>
<line x1="544.3" y1="1905.1" x2="544.3" y2="1899.5" stroke="#111111" stroke-width="1.15"/>
<text transform="translate(139.2 1940.5) scale(0.9600 1)" font-size="33.5" text-anchor="middle"><tspan font-weight="normal">–</tspan>1</text>
<text transform="translate(214.16 1940.5) scale(0.9600 1)" font-size="33.5" text-anchor="middle">0</text>
<text transform="translate(289.13 1940.5) scale(0.9600 1)" font-size="33.5" text-anchor="middle">1</text>
<text transform="translate(364.09 1940.5) scale(0.9600 1)" font-size="33.5" text-anchor="middle">2</text>
<text transform="translate(439.05 1940.5) scale(0.9600 1)" font-size="33.5" text-anchor="middle">3</text>
<text transform="translate(514.02 1940.5) scale(0.9600 1)" font-size="33.5" text-anchor="middle">4</text>
<text transform="translate(346.65 1974.3) scale(0.9600 1)" font-size="35" text-anchor="middle">E<tspan font-size="24" dy="8">int</tspan><tspan dy="-8"> (eV)</tspan></text>
<line x1="602.5" y1="1905.1" x2="602.5" y2="1894.1" stroke="#111111" stroke-width="1.15"/>
<line x1="617.49" y1="1905.1" x2="617.49" y2="1899.5" stroke="#111111" stroke-width="1.15"/>
<line x1="632.49" y1="1905.1" x2="632.49" y2="1899.5" stroke="#111111" stroke-width="1.15"/>
<line x1="647.48" y1="1905.1" x2="647.48" y2="1899.5" stroke="#111111" stroke-width="1.15"/>
<line x1="662.47" y1="1905.1" x2="662.47" y2="1899.5" stroke="#111111" stroke-width="1.15"/>
<line x1="677.46" y1="1905.1" x2="677.46" y2="1894.1" stroke="#111111" stroke-width="1.15"/>
<line x1="692.46" y1="1905.1" x2="692.46" y2="1899.5" stroke="#111111" stroke-width="1.15"/>
<line x1="707.45" y1="1905.1" x2="707.45" y2="1899.5" stroke="#111111" stroke-width="1.15"/>
<line x1="722.44" y1="1905.1" x2="722.44" y2="1899.5" stroke="#111111" stroke-width="1.15"/>
<line x1="737.43" y1="1905.1" x2="737.43" y2="1899.5" stroke="#111111" stroke-width="1.15"/>
<line x1="752.43" y1="1905.1" x2="752.43" y2="1894.1" stroke="#111111" stroke-width="1.15"/>
<line x1="767.42" y1="1905.1" x2="767.42" y2="1899.5" stroke="#111111" stroke-width="1.15"/>
<line x1="782.41" y1="1905.1" x2="782.41" y2="1899.5" stroke="#111111" stroke-width="1.15"/>
<line x1="797.41" y1="1905.1" x2="797.41" y2="1899.5" stroke="#111111" stroke-width="1.15"/>
<line x1="812.4" y1="1905.1" x2="812.4" y2="1899.5" stroke="#111111" stroke-width="1.15"/>
<line x1="827.39" y1="1905.1" x2="827.39" y2="1894.1" stroke="#111111" stroke-width="1.15"/>
<line x1="842.38" y1="1905.1" x2="842.38" y2="1899.5" stroke="#111111" stroke-width="1.15"/>
<line x1="857.38" y1="1905.1" x2="857.38" y2="1899.5" stroke="#111111" stroke-width="1.15"/>
<line x1="872.37" y1="1905.1" x2="872.37" y2="1899.5" stroke="#111111" stroke-width="1.15"/>
<line x1="887.36" y1="1905.1" x2="887.36" y2="1899.5" stroke="#111111" stroke-width="1.15"/>
<line x1="902.35" y1="1905.1" x2="902.35" y2="1894.1" stroke="#111111" stroke-width="1.15"/>
<line x1="917.35" y1="1905.1" x2="917.35" y2="1899.5" stroke="#111111" stroke-width="1.15"/>
<line x1="932.34" y1="1905.1" x2="932.34" y2="1899.5" stroke="#111111" stroke-width="1.15"/>
<line x1="947.33" y1="1905.1" x2="947.33" y2="1899.5" stroke="#111111" stroke-width="1.15"/>
<line x1="962.33" y1="1905.1" x2="962.33" y2="1899.5" stroke="#111111" stroke-width="1.15"/>
<line x1="977.32" y1="1905.1" x2="977.32" y2="1894.1" stroke="#111111" stroke-width="1.15"/>
<line x1="992.31" y1="1905.1" x2="992.31" y2="1899.5" stroke="#111111" stroke-width="1.15"/>
<line x1="1007.3" y1="1905.1" x2="1007.3" y2="1899.5" stroke="#111111" stroke-width="1.15"/>
<text transform="translate(602.2 1940.5) scale(0.9600 1)" font-size="33.5" text-anchor="middle"><tspan font-weight="normal">–</tspan>1</text>
<text transform="translate(677.16 1940.5) scale(0.9600 1)" font-size="33.5" text-anchor="middle">0</text>
<text transform="translate(752.13 1940.5) scale(0.9600 1)" font-size="33.5" text-anchor="middle">1</text>
<text transform="translate(827.09 1940.5) scale(0.9600 1)" font-size="33.5" text-anchor="middle">2</text>
<text transform="translate(902.05 1940.5) scale(0.9600 1)" font-size="33.5" text-anchor="middle">3</text>
<text transform="translate(977.02 1940.5) scale(0.9600 1)" font-size="33.5" text-anchor="middle">4</text>
<text transform="translate(809.65 1974.3) scale(0.9600 1)" font-size="35" text-anchor="middle">E<tspan font-size="24" dy="8">int</tspan><tspan dy="-8"> (eV)</tspan></text>
<line x1="1066" y1="1905.1" x2="1066" y2="1894.1" stroke="#111111" stroke-width="1.15"/>
<line x1="1080.99" y1="1905.1" x2="1080.99" y2="1899.5" stroke="#111111" stroke-width="1.15"/>
<line x1="1095.99" y1="1905.1" x2="1095.99" y2="1899.5" stroke="#111111" stroke-width="1.15"/>
<line x1="1110.98" y1="1905.1" x2="1110.98" y2="1899.5" stroke="#111111" stroke-width="1.15"/>
<line x1="1125.97" y1="1905.1" x2="1125.97" y2="1899.5" stroke="#111111" stroke-width="1.15"/>
<line x1="1140.96" y1="1905.1" x2="1140.96" y2="1894.1" stroke="#111111" stroke-width="1.15"/>
<line x1="1155.96" y1="1905.1" x2="1155.96" y2="1899.5" stroke="#111111" stroke-width="1.15"/>
<line x1="1170.95" y1="1905.1" x2="1170.95" y2="1899.5" stroke="#111111" stroke-width="1.15"/>
<line x1="1185.94" y1="1905.1" x2="1185.94" y2="1899.5" stroke="#111111" stroke-width="1.15"/>
<line x1="1200.93" y1="1905.1" x2="1200.93" y2="1899.5" stroke="#111111" stroke-width="1.15"/>
<line x1="1215.93" y1="1905.1" x2="1215.93" y2="1894.1" stroke="#111111" stroke-width="1.15"/>
<line x1="1230.92" y1="1905.1" x2="1230.92" y2="1899.5" stroke="#111111" stroke-width="1.15"/>
<line x1="1245.91" y1="1905.1" x2="1245.91" y2="1899.5" stroke="#111111" stroke-width="1.15"/>
<line x1="1260.91" y1="1905.1" x2="1260.91" y2="1899.5" stroke="#111111" stroke-width="1.15"/>
<line x1="1275.9" y1="1905.1" x2="1275.9" y2="1899.5" stroke="#111111" stroke-width="1.15"/>
<line x1="1290.89" y1="1905.1" x2="1290.89" y2="1894.1" stroke="#111111" stroke-width="1.15"/>
<line x1="1305.88" y1="1905.1" x2="1305.88" y2="1899.5" stroke="#111111" stroke-width="1.15"/>
<line x1="1320.88" y1="1905.1" x2="1320.88" y2="1899.5" stroke="#111111" stroke-width="1.15"/>
<line x1="1335.87" y1="1905.1" x2="1335.87" y2="1899.5" stroke="#111111" stroke-width="1.15"/>
<line x1="1350.86" y1="1905.1" x2="1350.86" y2="1899.5" stroke="#111111" stroke-width="1.15"/>
<line x1="1365.85" y1="1905.1" x2="1365.85" y2="1894.1" stroke="#111111" stroke-width="1.15"/>
<line x1="1380.85" y1="1905.1" x2="1380.85" y2="1899.5" stroke="#111111" stroke-width="1.15"/>
<line x1="1395.84" y1="1905.1" x2="1395.84" y2="1899.5" stroke="#111111" stroke-width="1.15"/>
<line x1="1410.83" y1="1905.1" x2="1410.83" y2="1899.5" stroke="#111111" stroke-width="1.15"/>
<line x1="1425.83" y1="1905.1" x2="1425.83" y2="1899.5" stroke="#111111" stroke-width="1.15"/>
<line x1="1440.82" y1="1905.1" x2="1440.82" y2="1894.1" stroke="#111111" stroke-width="1.15"/>
<line x1="1455.81" y1="1905.1" x2="1455.81" y2="1899.5" stroke="#111111" stroke-width="1.15"/>
<line x1="1470.8" y1="1905.1" x2="1470.8" y2="1899.5" stroke="#111111" stroke-width="1.15"/>
<text transform="translate(1065.7 1940.5) scale(0.9600 1)" font-size="33.5" text-anchor="middle"><tspan font-weight="normal">–</tspan>1</text>
<text transform="translate(1140.66 1940.5) scale(0.9600 1)" font-size="33.5" text-anchor="middle">0</text>
<text transform="translate(1215.63 1940.5) scale(0.9600 1)" font-size="33.5" text-anchor="middle">1</text>
<text transform="translate(1290.59 1940.5) scale(0.9600 1)" font-size="33.5" text-anchor="middle">2</text>
<text transform="translate(1365.55 1940.5) scale(0.9600 1)" font-size="33.5" text-anchor="middle">3</text>
<text transform="translate(1440.52 1940.5) scale(0.9600 1)" font-size="33.5" text-anchor="middle">4</text>
<text transform="translate(1273.15 1974.3) scale(0.9600 1)" font-size="35" text-anchor="middle">E<tspan font-size="24" dy="8">int</tspan><tspan dy="-8"> (eV)</tspan></text>
<line x1="1529.3" y1="1905.1" x2="1529.3" y2="1894.1" stroke="#111111" stroke-width="1.15"/>
<line x1="1544.29" y1="1905.1" x2="1544.29" y2="1899.5" stroke="#111111" stroke-width="1.15"/>
<line x1="1559.29" y1="1905.1" x2="1559.29" y2="1899.5" stroke="#111111" stroke-width="1.15"/>
<line x1="1574.28" y1="1905.1" x2="1574.28" y2="1899.5" stroke="#111111" stroke-width="1.15"/>
<line x1="1589.27" y1="1905.1" x2="1589.27" y2="1899.5" stroke="#111111" stroke-width="1.15"/>
<line x1="1604.26" y1="1905.1" x2="1604.26" y2="1894.1" stroke="#111111" stroke-width="1.15"/>
<line x1="1619.26" y1="1905.1" x2="1619.26" y2="1899.5" stroke="#111111" stroke-width="1.15"/>
<line x1="1634.25" y1="1905.1" x2="1634.25" y2="1899.5" stroke="#111111" stroke-width="1.15"/>
<line x1="1649.24" y1="1905.1" x2="1649.24" y2="1899.5" stroke="#111111" stroke-width="1.15"/>
<line x1="1664.23" y1="1905.1" x2="1664.23" y2="1899.5" stroke="#111111" stroke-width="1.15"/>
<line x1="1679.23" y1="1905.1" x2="1679.23" y2="1894.1" stroke="#111111" stroke-width="1.15"/>
<line x1="1694.22" y1="1905.1" x2="1694.22" y2="1899.5" stroke="#111111" stroke-width="1.15"/>
<line x1="1709.21" y1="1905.1" x2="1709.21" y2="1899.5" stroke="#111111" stroke-width="1.15"/>
<line x1="1724.21" y1="1905.1" x2="1724.21" y2="1899.5" stroke="#111111" stroke-width="1.15"/>
<line x1="1739.2" y1="1905.1" x2="1739.2" y2="1899.5" stroke="#111111" stroke-width="1.15"/>
<line x1="1754.19" y1="1905.1" x2="1754.19" y2="1894.1" stroke="#111111" stroke-width="1.15"/>
<line x1="1769.18" y1="1905.1" x2="1769.18" y2="1899.5" stroke="#111111" stroke-width="1.15"/>
<line x1="1784.18" y1="1905.1" x2="1784.18" y2="1899.5" stroke="#111111" stroke-width="1.15"/>
<line x1="1799.17" y1="1905.1" x2="1799.17" y2="1899.5" stroke="#111111" stroke-width="1.15"/>
<line x1="1814.16" y1="1905.1" x2="1814.16" y2="1899.5" stroke="#111111" stroke-width="1.15"/>
<line x1="1829.15" y1="1905.1" x2="1829.15" y2="1894.1" stroke="#111111" stroke-width="1.15"/>
<line x1="1844.15" y1="1905.1" x2="1844.15" y2="1899.5" stroke="#111111" stroke-width="1.15"/>
<line x1="1859.14" y1="1905.1" x2="1859.14" y2="1899.5" stroke="#111111" stroke-width="1.15"/>
<line x1="1874.13" y1="1905.1" x2="1874.13" y2="1899.5" stroke="#111111" stroke-width="1.15"/>
<line x1="1889.13" y1="1905.1" x2="1889.13" y2="1899.5" stroke="#111111" stroke-width="1.15"/>
<line x1="1904.12" y1="1905.1" x2="1904.12" y2="1894.1" stroke="#111111" stroke-width="1.15"/>
<line x1="1919.11" y1="1905.1" x2="1919.11" y2="1899.5" stroke="#111111" stroke-width="1.15"/>
<line x1="1934.1" y1="1905.1" x2="1934.1" y2="1899.5" stroke="#111111" stroke-width="1.15"/>
<text transform="translate(1529 1940.5) scale(0.9600 1)" font-size="33.5" text-anchor="middle"><tspan font-weight="normal">–</tspan>1</text>
<text transform="translate(1603.96 1940.5) scale(0.9600 1)" font-size="33.5" text-anchor="middle">0</text>
<text transform="translate(1678.93 1940.5) scale(0.9600 1)" font-size="33.5" text-anchor="middle">1</text>
<text transform="translate(1753.89 1940.5) scale(0.9600 1)" font-size="33.5" text-anchor="middle">2</text>
<text transform="translate(1828.85 1940.5) scale(0.9600 1)" font-size="33.5" text-anchor="middle">3</text>
<text transform="translate(1903.82 1940.5) scale(0.9600 1)" font-size="33.5" text-anchor="middle">4</text>
<text transform="translate(1736.45 1974.3) scale(0.9600 1)" font-size="35" text-anchor="middle">E<tspan font-size="24" dy="8">int</tspan><tspan dy="-8"> (eV)</tspan></text>
<g clip-path="url(#cp_a1)">
<path d="M141 110.6 L147.88 110.6 L147.88 180.67 L154.75 180.67 L154.75 221.11 L161.62 221.11 L161.62 253.21 L168.5 253.21 L168.5 271.42 L175.38 271.42 L175.38 289.33 L182.25 289.33 L182.25 301.98 L189.12 301.98 L189.12 313.41 L196 313.41 L196 321.43 L202.88 321.43 L202.88 329.15 L209.75 329.15 L209.75 336.56 L216.62 336.56 L216.62 344.58 L223.5 344.58 L223.5 351.38 L230.38 351.38 L230.38 353.23 L237.25 353.23 L237.25 360.02 L244.12 360.02 L244.12 364.34 L251 364.34 L251 372.37 L257.88 372.37 L257.88 374.84 L264.75 374.84 L264.75 377.61 L271.62 377.61 L271.62 380.39 L278.5 380.39 L278.5 386.57 L285.38 386.57 L285.38 390.89 L292.25 390.89 L292.25 391.51 L299.12 391.51 L299.12 392.43 L306 392.43 L306 392.74 L312.88 392.74 L312.88 398.3 L319.75 398.3 L319.75 399.53 L326.62 399.53 L326.62 400.15 L333.5 400.15 L333.5 403.85 L340.38 403.85 L340.38 402.93 L347.25 402.93 L347.25 402.62 L354.12 402.62 L354.12 402.31 L361 402.31 L361 402.93 L367.88 402.93 L367.88 397.37 L374.75 397.37 L374.75 398.3 L381.62 398.3 L381.62 398.91 L388.5 398.91 L388.5 398.91 L395.38 398.91 L395.38 396.14 L402.25 396.14 L402.25 393.98 L409.12 393.98 L409.12 389.65 L416 389.65 L416 386.57 L422.88 386.57 L422.88 384.1 L429.75 384.1 L429.75 379.78 L436.62 379.78 L436.62 373.6 L443.5 373.6 L443.5 369.9 L450.38 369.9 L450.38 364.03 L457.25 364.03 L457.25 363.41 L464.12 363.41 L464.12 353.85 L471 353.85 L471 349.52 L477.88 349.52 L477.88 343.35 L484.75 343.35 L484.75 336.87 L491.62 336.87 L491.62 330.69 L498.5 330.69 L498.5 323.28 L505.38 323.28 L505.38 315.57 L512.25 315.57 L512.25 312.48 L519.12 312.48 L519.12 302.91 L526 302.91 L526 294.27 L532.88 294.27 L532.88 283.46 L539.75 283.46 L539.75 269.57 L546.62 269.57 L546.62 243.02 L553.5 243.02" fill="none" stroke="#0000ff" stroke-width="3.7" stroke-linejoin="miter" stroke-linecap="butt"/>
<path d="M141 343.66 L154.75 343.66 L154.75 372.37 L168.5 372.37 L168.5 378.23 L182.25 378.23 L182.25 377.61 L196 377.61 L196 376.69 L209.75 376.69 L209.75 374.53 L223.5 374.53 L223.5 375.45 L237.25 375.45 L237.25 376.69 L251 376.69 L251 372.06 L264.75 372.06 L264.75 372.68 L278.5 372.68 L278.5 369.59 L292.25 369.59 L292.25 371.75 L306 371.75 L306 369.59 L319.75 369.59 L319.75 372.37 L333.5 372.37 L333.5 367.43 L347.25 367.43 L347.25 370.51 L361 370.51 L361 365.88 L374.75 365.88 L374.75 364.34 L388.5 364.34 L388.5 357.86 L402.25 357.86 L402.25 353.54 L416 353.54 L416 347.98 L429.75 347.98 L429.75 341.5 L443.5 341.5 L443.5 337.79 L457.25 337.79 L457.25 320.82 L471 320.82 L471 308.78 L484.75 308.78 L484.75 301.37 L498.5 301.37 L498.5 291.18 L512.25 291.18 L512.25 274.82 L526 274.82 L526 264.94 L539.75 264.94 L539.75 239.01 L553.5 239.01" fill="none" stroke="#ff0000" stroke-width="3.7" stroke-linejoin="miter" stroke-linecap="butt"/>
</g>
<g clip-path="url(#cp_a2)">
<path d="M603.9 197.03 L610.77 197.03 L610.77 250.12 L617.65 250.12 L617.65 291.49 L624.52 291.49 L624.52 318.96 L631.4 318.96 L631.4 335.94 L638.27 335.94 L638.27 351.07 L645.15 351.07 L645.15 365.88 L652.02 365.88 L652.02 373.91 L658.9 373.91 L658.9 377 L665.77 377 L665.77 381.32 L672.65 381.32 L672.65 382.86 L679.52 382.86 L679.52 384.1 L686.4 384.1 L686.4 385.02 L693.27 385.02 L693.27 385.33 L700.15 385.33 L700.15 387.8 L707.02 387.8 L707.02 386.57 L713.9 386.57 L713.9 384.1 L720.77 384.1 L720.77 384.41 L727.65 384.41 L727.65 385.33 L734.52 385.33 L734.52 385.64 L741.4 385.64 L741.4 383.79 L748.27 383.79 L748.27 382.24 L755.15 382.24 L755.15 381.32 L762.02 381.32 L762.02 382.55 L768.9 382.55 L768.9 379.16 L775.77 379.16 L775.77 377 L782.65 377 L782.65 377.61 L789.52 377.61 L789.52 376.07 L796.4 376.07 L796.4 376.69 L803.27 376.69 L803.27 376.38 L810.15 376.38 L810.15 374.22 L817.02 374.22 L817.02 372.98 L823.9 372.98 L823.9 371.44 L830.77 371.44 L830.77 368.04 L837.65 368.04 L837.65 368.97 L844.52 368.97 L844.52 362.18 L851.4 362.18 L851.4 361.25 L858.27 361.25 L858.27 356.01 L865.15 356.01 L865.15 353.23 L872.02 353.23 L872.02 348.6 L878.9 348.6 L878.9 347.36 L885.77 347.36 L885.77 343.35 L892.65 343.35 L892.65 338.1 L899.52 338.1 L899.52 336.56 L906.4 336.56 L906.4 333.47 L913.27 333.47 L913.27 327.91 L920.15 327.91 L920.15 322.36 L927.02 322.36 L927.02 319.89 L933.9 319.89 L933.9 319.27 L940.77 319.27 L940.77 316.49 L947.65 316.49 L947.65 309.08 L954.52 309.08 L954.52 308.47 L961.4 308.47 L961.4 303.84 L968.27 303.84 L968.27 301.37 L975.15 301.37 L975.15 303.84 L982.02 303.84 L982.02 299.52 L988.9 299.52 L988.9 296.74 L995.77 296.74 L995.77 297.35 L1002.65 297.35 L1002.65 294.58 L1009.52 294.58 L1009.52 289.33 L1016.4 289.33" fill="none" stroke="#0000ff" stroke-width="3.7" stroke-linejoin="miter" stroke-linecap="butt"/>
<path d="M603.9 383.17 L617.65 383.17 L617.65 405.09 L631.4 405.09 L631.4 412.5 L645.15 412.5 L645.15 416.51 L658.9 416.51 L658.9 411.26 L672.65 411.26 L672.65 406.94 L686.4 406.94 L686.4 398.3 L700.15 398.3 L700.15 391.2 L713.9 391.2 L713.9 384.41 L727.65 384.41 L727.65 376.38 L741.4 376.38 L741.4 370.82 L755.15 370.82 L755.15 364.65 L768.9 364.65 L768.9 360.64 L782.65 360.64 L782.65 354.77 L796.4 354.77 L796.4 350.76 L810.15 350.76 L810.15 344.89 L823.9 344.89 L823.9 335.01 L837.65 335.01 L837.65 336.25 L851.4 336.25 L851.4 329.15 L865.15 329.15 L865.15 325.75 L878.9 325.75 L878.9 318.35 L892.65 318.35 L892.65 313.1 L906.4 313.1 L906.4 309.08 L920.15 309.08 L920.15 308.47 L933.9 308.47 L933.9 299.21 L947.65 299.21 L947.65 290.25 L961.4 290.25 L961.4 287.17 L975.15 287.17 L975.15 285.93 L988.9 285.93 L988.9 277.91 L1002.65 277.91 L1002.65 269.88 L1016.4 269.88" fill="none" stroke="#ff0000" stroke-width="3.7" stroke-linejoin="miter" stroke-linecap="butt"/>
</g>
<g clip-path="url(#cp_a3)">
<path d="M1067.5 301.06 L1081.25 301.06 L1081.25 351.07 L1095 351.07 L1095 370.51 L1108.75 370.51 L1108.75 374.84 L1122.5 374.84 L1122.5 370.51 L1136.25 370.51 L1136.25 364.96 L1150 364.96 L1150 363.41 L1163.75 363.41 L1163.75 362.18 L1177.5 362.18 L1177.5 363.72 L1191.25 363.72 L1191.25 362.8 L1205 362.8 L1205 358.48 L1218.75 358.48 L1218.75 357.86 L1232.5 357.86 L1232.5 359.09 L1246.25 359.09 L1246.25 357.86 L1260 357.86 L1260 354.46 L1273.75 354.46 L1273.75 354.15 L1287.5 354.15 L1287.5 350.14 L1301.25 350.14 L1301.25 348.6 L1315 348.6 L1315 341.81 L1328.75 341.81 L1328.75 340.88 L1342.5 340.88 L1342.5 336.25 L1356.25 336.25 L1356.25 336.25 L1370 336.25 L1370 332.55 L1383.75 332.55 L1383.75 327.61 L1397.5 327.61 L1397.5 328.84 L1411.25 328.84 L1411.25 328.84 L1425 328.84 L1425 326.68 L1438.75 326.68 L1438.75 324.83 L1452.5 324.83 L1452.5 329.77 L1466.25 329.77 L1466.25 334.09 L1480 334.09" fill="none" stroke="#0000ff" stroke-width="3.7" stroke-linejoin="miter" stroke-linecap="butt"/>
<path d="M1067.5 387.18 L1081.25 387.18 L1081.25 411.88 L1095 411.88 L1095 422.99 L1108.75 422.99 L1108.75 432.56 L1122.5 432.56 L1122.5 430.09 L1136.25 430.09 L1136.25 429.17 L1150 429.17 L1150 425.46 L1163.75 425.46 L1163.75 420.83 L1177.5 420.83 L1177.5 410.03 L1191.25 410.03 L1191.25 402.31 L1205 402.31 L1205 392.12 L1218.75 392.12 L1218.75 379.78 L1232.5 379.78 L1232.5 369.28 L1246.25 369.28 L1246.25 353.23 L1260 353.23 L1260 343.97 L1273.75 343.97 L1273.75 337.79 L1287.5 337.79 L1287.5 327.91 L1301.25 327.91 L1301.25 318.65 L1315 318.65 L1315 312.79 L1328.75 312.79 L1328.75 299.82 L1342.5 299.82 L1342.5 293.03 L1356.25 293.03 L1356.25 289.95 L1370 289.95 L1370 281.92 L1383.75 281.92 L1383.75 276.98 L1397.5 276.98 L1397.5 279.45 L1411.25 279.45 L1411.25 277.91 L1425 277.91 L1425 280.69 L1438.75 280.69 L1438.75 276.98 L1452.5 276.98 L1452.5 277.29 L1466.25 277.29 L1466.25 272.66 L1480 272.66" fill="none" stroke="#ff0000" stroke-width="3.7" stroke-linejoin="miter" stroke-linecap="butt"/>
</g>
<g clip-path="url(#cp_a4)">
<path d="M1530.6 264.02 L1537.47 264.02 L1537.47 309.39 L1544.35 309.39 L1544.35 346.44 L1551.22 346.44 L1551.22 360.02 L1558.1 360.02 L1558.1 373.29 L1564.97 373.29 L1564.97 379.78 L1571.85 379.78 L1571.85 377 L1578.72 377 L1578.72 374.53 L1585.6 374.53 L1585.6 375.76 L1592.47 375.76 L1592.47 371.75 L1599.35 371.75 L1599.35 364.03 L1606.22 364.03 L1606.22 358.17 L1613.1 358.17 L1613.1 352.92 L1619.97 352.92 L1619.97 350.76 L1626.85 350.76 L1626.85 338.1 L1633.72 338.1 L1633.72 342.73 L1640.6 342.73 L1640.6 333.16 L1647.47 333.16 L1647.47 338.1 L1654.35 338.1 L1654.35 334.09 L1661.22 334.09 L1661.22 338.72 L1668.1 338.72 L1668.1 333.16 L1674.97 333.16 L1674.97 335.94 L1681.85 335.94 L1681.85 338.1 L1688.72 338.1 L1688.72 333.16 L1695.6 333.16 L1695.6 339.65 L1702.47 339.65 L1702.47 338.72 L1709.35 338.72 L1709.35 339.34 L1716.22 339.34 L1716.22 342.73 L1723.1 342.73 L1723.1 340.26 L1729.97 340.26 L1729.97 337.48 L1736.85 337.48 L1736.85 346.13 L1743.72 346.13 L1743.72 343.04 L1750.6 343.04 L1750.6 341.81 L1757.47 341.81 L1757.47 340.88 L1764.35 340.88 L1764.35 339.95 L1771.22 339.95 L1771.22 339.34 L1778.1 339.34 L1778.1 339.95 L1784.97 339.95 L1784.97 339.03 L1791.85 339.03 L1791.85 339.34 L1798.72 339.34 L1798.72 340.57 L1805.6 340.57 L1805.6 335.32 L1812.47 335.32 L1812.47 338.41 L1819.35 338.41 L1819.35 337.79 L1826.22 337.79 L1826.22 340.88 L1833.1 340.88 L1833.1 340.57 L1839.97 340.57 L1839.97 339.95 L1846.85 339.95 L1846.85 343.66 L1853.72 343.66 L1853.72 343.35 L1860.6 343.35 L1860.6 346.13 L1867.47 346.13 L1867.47 351.99 L1874.35 351.99 L1874.35 350.14 L1881.22 350.14 L1881.22 354.15 L1888.1 354.15 L1888.1 361.56 L1894.97 361.56 L1894.97 364.65 L1901.85 364.65 L1901.85 364.65 L1908.72 364.65 L1908.72 365.88 L1915.6 365.88 L1915.6 367.43 L1922.47 367.43 L1922.47 370.21 L1929.35 370.21 L1929.35 369.9 L1936.22 369.9 L1936.22 373.91 L1943.1 373.91" fill="none" stroke="#0000ff" stroke-width="3.7" stroke-linejoin="miter" stroke-linecap="butt"/>
<path d="M1530.6 438.12 L1544.35 438.12 L1544.35 443.67 L1558.1 443.67 L1558.1 437.81 L1571.85 437.81 L1571.85 436.88 L1585.6 436.88 L1585.6 431.02 L1599.35 431.02 L1599.35 421.76 L1613.1 421.76 L1613.1 413.11 L1626.85 413.11 L1626.85 400.15 L1640.6 400.15 L1640.6 387.8 L1654.35 387.8 L1654.35 373.91 L1668.1 373.91 L1668.1 366.81 L1681.85 366.81 L1681.85 355.08 L1695.6 355.08 L1695.6 343.97 L1709.35 343.97 L1709.35 338.1 L1723.1 338.1 L1723.1 326.68 L1736.85 326.68 L1736.85 313.1 L1750.6 313.1 L1750.6 313.72 L1764.35 313.72 L1764.35 301.06 L1778.1 301.06 L1778.1 297.35 L1791.85 297.35 L1791.85 286.86 L1805.6 286.86 L1805.6 282.23 L1819.35 282.23 L1819.35 287.78 L1833.1 287.78 L1833.1 283.46 L1846.85 283.46 L1846.85 287.48 L1860.6 287.48 L1860.6 284.39 L1874.35 284.39 L1874.35 296.74 L1888.1 296.74 L1888.1 301.68 L1901.85 301.68 L1901.85 309.7 L1915.6 309.7 L1915.6 321.43 L1929.35 321.43 L1929.35 332.85 L1943.1 332.85" fill="none" stroke="#ff0000" stroke-width="3.7" stroke-linejoin="miter" stroke-linecap="butt"/>
</g>
<g clip-path="url(#cp_b1)">
<path d="M139.5 718.32 L180.73 718.32 L180.73 795.82 L221.96 795.82 L221.96 812.18 L263.19 812.18 L263.19 811.87 L304.42 811.87 L304.42 817.74 L345.65 817.74 L345.65 809.4 L386.88 809.4 L386.88 816.81 L428.11 816.81 L428.11 795.2 L469.34 795.2 L469.34 783.47 L510.57 783.47 L510.57 726.96 L551.8 726.96" fill="none" stroke="#0000ff" stroke-width="3.7" stroke-linejoin="miter" stroke-linecap="butt"/>
<path d="M139.5 760.62 L180.73 760.62 L180.73 827.62 L221.96 827.62 L221.96 812.18 L263.19 812.18 L263.19 797.67 L304.42 797.67 L304.42 789.95 L345.65 789.95 L345.65 791.49 L386.88 791.49 L386.88 789.64 L428.11 789.64 L428.11 794.27 L469.34 794.27 L469.34 785.01 L510.57 785.01 L510.57 738.39 L551.8 738.39" fill="none" stroke="#ff0000" stroke-width="3.7" stroke-linejoin="miter" stroke-linecap="butt"/>
</g>
<g clip-path="url(#cp_b2)">
<path d="M602.5 807.55 L643.73 807.55 L643.73 833.8 L684.96 833.8 L684.96 825.15 L726.19 825.15 L726.19 801.99 L767.42 801.99 L767.42 788.1 L808.65 788.1 L808.65 775.75 L849.88 775.75 L849.88 754.44 L891.11 754.44 L891.11 761.85 L932.34 761.85 L932.34 772.66 L973.57 772.66 L973.57 765.87 L1014.8 765.87" fill="none" stroke="#0000ff" stroke-width="3.7" stroke-linejoin="miter" stroke-linecap="butt"/>
<path d="M602.5 805.7 L643.73 805.7 L643.73 855.72 L684.96 855.72 L684.96 839.35 L726.19 839.35 L726.19 814.65 L767.42 814.65 L767.42 787.48 L808.65 787.48 L808.65 757.53 L849.88 757.53 L849.88 753.21 L891.11 753.21 L891.11 760.62 L932.34 760.62 L932.34 768.95 L973.57 768.95 L973.57 744.56 L1014.8 744.56" fill="none" stroke="#ff0000" stroke-width="3.7" stroke-linejoin="miter" stroke-linecap="butt"/>
</g>
<g clip-path="url(#cp_b3)">
<path d="M1066 840.59 L1107.23 840.59 L1107.23 842.75 L1148.46 842.75 L1148.46 828.24 L1189.69 828.24 L1189.69 797.05 L1230.92 797.05 L1230.92 798.9 L1272.15 798.9 L1272.15 757.22 L1313.38 757.22 L1313.38 742.71 L1354.61 742.71 L1354.61 745.49 L1395.84 745.49 L1395.84 769.26 L1437.07 769.26 L1437.07 764.32 L1478.3 764.32" fill="none" stroke="#0000ff" stroke-width="3.7" stroke-linejoin="miter" stroke-linecap="butt"/>
<path d="M1066 838.12 L1107.23 838.12 L1107.23 866.83 L1148.46 866.83 L1148.46 841.21 L1189.69 841.21 L1189.69 830.09 L1230.92 830.09 L1230.92 795.2 L1272.15 795.2 L1272.15 740.24 L1313.38 740.24 L1313.38 725.11 L1354.61 725.11 L1354.61 744.56 L1395.84 744.56 L1395.84 756.91 L1437.07 756.91 L1437.07 751.35 L1478.3 751.35" fill="none" stroke="#ff0000" stroke-width="3.7" stroke-linejoin="miter" stroke-linecap="butt"/>
</g>
<g clip-path="url(#cp_b4)">
<path d="M1529.3 869 L1570.53 869 L1570.53 825.15 L1611.76 825.15 L1611.76 795.2 L1652.99 795.2 L1652.99 778.22 L1694.22 778.22 L1694.22 771.73 L1735.45 771.73 L1735.45 761.23 L1776.68 761.23 L1776.68 755.68 L1817.91 755.68 L1817.91 763.4 L1859.14 763.4 L1859.14 777.6 L1900.37 777.6 L1900.37 792.11 L1941.6 792.11" fill="none" stroke="#0000ff" stroke-width="3.7" stroke-linejoin="miter" stroke-linecap="butt"/>
<path d="M1529.3 874.55 L1570.53 874.55 L1570.53 882.58 L1611.76 882.58 L1611.76 840.9 L1652.99 840.9 L1652.99 822.99 L1694.22 822.99 L1694.22 761.23 L1735.45 761.23 L1735.45 749.5 L1776.68 749.5 L1776.68 715.85 L1817.91 715.85 L1817.91 740.24 L1859.14 740.24 L1859.14 747.65 L1900.37 747.65 L1900.37 753.82 L1941.6 753.82" fill="none" stroke="#ff0000" stroke-width="3.7" stroke-linejoin="miter" stroke-linecap="butt"/>
</g>
<g clip-path="url(#cp_c1)">
<path d="M141 1467.34 L145.3 1467.34 L145.3 1467.21 L150.1 1467.21 L150.1 1467.09 L154.9 1467.09 L154.9 1466.96 L159.7 1466.96 L159.7 1466.64 L164.5 1466.64 L164.5 1466.3 L169.3 1466.3 L169.3 1466 L174.1 1466 L174.1 1465.64 L178.9 1465.64 L178.9 1465.26 L183.7 1465.26 L183.7 1464.87 L188.5 1464.87 L188.5 1464.39 L193.3 1464.39 L193.3 1463.93 L198.1 1463.93 L198.1 1463.19 L202.9 1463.19 L202.9 1462.31 L207.7 1462.31 L207.7 1461.4 L212.5 1461.4 L212.5 1460.35 L217.3 1460.35 L217.3 1459.33 L222.1 1459.33 L222.1 1457.38 L226.9 1457.38 L226.9 1454.41 L231.7 1454.41 L231.7 1450.8 L236.5 1450.8 L236.5 1447.65 L241.3 1447.65 L241.3 1444.3 L246.1 1444.3 L246.1 1438.65 L250.9 1438.65 L250.9 1431.4 L255.7 1431.4 L255.7 1424.92 L260.5 1424.92 L260.5 1416.55 L265.3 1416.55 L265.3 1408.21 L270.1 1408.21 L270.1 1398.63 L274.9 1398.63 L274.9 1391.17 L279.7 1391.17 L279.7 1382.88 L284.5 1382.88 L284.5 1374.14 L289.3 1374.14 L289.3 1367.68 L294.1 1367.68 L294.1 1361.65 L298.9 1361.65 L298.9 1353.01 L303.7 1353.01 L303.7 1345.55 L308.5 1345.55 L308.5 1338.32 L313.3 1338.32 L313.3 1326.22 L318.1 1326.22 L318.1 1316.31 L322.9 1316.31 L322.9 1304.67 L327.7 1304.67 L327.7 1294.8 L332.5 1294.8 L332.5 1286.74 L337.3 1286.74 L337.3 1276.27 L342.1 1276.27 L342.1 1264.41 L346.9 1264.41 L346.9 1255.07 L351.7 1255.07 L351.7 1238.9 L356.5 1238.9 L356.5 1223.08 L361.3 1223.08 L361.3 1212.68 L366.1 1212.68 L366.1 1197.26 L370.9 1197.26 L370.9 1184.12 L375.7 1184.12 L375.7 1177.37 L380.5 1177.37 L380.5 1174.82 L385.3 1174.82 L385.3 1173.82 L390.1 1173.82 L390.1 1166.48 L394.9 1166.48 L394.9 1154.93 L399.7 1154.93 L399.7 1144.95 L404.5 1144.95 L404.5 1140.63 L409.56 1140.63 L409.56 1336.56 L414.06 1336.56 L414.06 1468.5 L553.5 1468.5" fill="none" stroke="#0000ff" stroke-width="3.7" stroke-linejoin="miter" stroke-linecap="butt"/>
<path d="M181.04 1468.5 L181.04 1459.31 L183.58 1459.31 L183.58 1459.11 L187.28 1459.11 L187.28 1459.11 L190.98 1459.11 L190.98 1457.73 L194.68 1457.73 L194.68 1455.18 L198.38 1455.18 L198.38 1451.86 L202.08 1451.86 L202.08 1452.21 L205.78 1452.21 L205.78 1451.16 L209.48 1451.16 L209.48 1449.89 L213.18 1449.89 L213.18 1447.47 L216.88 1447.47 L216.88 1445.55 L220.58 1445.55 L220.58 1441.55 L224.28 1441.55 L224.28 1438.93 L227.98 1438.93 L227.98 1437.06 L231.68 1437.06 L231.68 1431.8 L235.38 1431.8 L235.38 1428.06 L239.08 1428.06 L239.08 1420.95 L242.78 1420.95 L242.78 1415.16 L246.48 1415.16 L246.48 1412.19 L250.18 1412.19 L250.18 1406.37 L253.88 1406.37 L253.88 1398.1 L257.58 1398.1 L257.58 1394.93 L261.28 1394.93 L261.28 1388.8 L264.98 1388.8 L264.98 1380.35 L268.68 1380.35 L268.68 1377.03 L272.38 1377.03 L272.38 1367.81 L276.08 1367.81 L276.08 1363.75 L279.78 1363.75 L279.78 1355.44 L283.48 1355.44 L283.48 1349.05 L287.18 1349.05 L287.18 1344.31 L290.88 1344.31 L290.88 1338.15 L294.58 1338.15 L294.58 1333.15 L298.28 1333.15 L298.28 1328.64 L301.98 1328.64 L301.98 1327.03 L305.68 1327.03 L305.68 1325.87 L309.38 1325.87 L309.38 1325.48 L313.08 1325.48 L313.08 1315.76 L316.78 1315.76 L316.78 1313.48 L320.48 1313.48 L320.48 1312.17 L324.18 1312.17 L324.18 1307.62 L327.88 1307.62 L327.88 1302.51 L331.58 1302.51 L331.58 1295.66 L335.28 1295.66 L335.28 1292.01 L338.98 1292.01 L338.98 1286 L342.68 1286 L342.68 1279.79 L346.38 1279.79 L346.38 1275.47 L350.08 1275.47 L350.08 1270.9 L353.78 1270.9 L353.78 1271.71 L357.48 1271.71 L357.48 1268.53 L361.18 1268.53 L361.18 1266.47 L364.88 1266.47 L364.88 1254.55 L368.58 1254.55 L368.58 1244.16 L372.28 1244.16 L372.28 1242.29 L375.98 1242.29 L375.98 1242.15 L379.68 1242.15 L379.68 1239.71 L383.38 1239.71 L383.38 1240.09 L387.08 1240.09 L387.08 1239.67 L390.78 1239.67 L390.78 1242.58 L394.48 1242.58 L394.48 1231.83 L398.18 1231.83 L398.18 1225.96 L401.88 1225.96 L401.88 1208.13 L405.63 1208.13 L405.63 1180 L409.38 1180 L409.38 1142.13 L413.31 1142.13 L413.31 1362.81 L417.25 1362.81 L417.25 1468.5 L550.1 1468.5" fill="none" stroke="#ff0000" stroke-width="3.7" stroke-linejoin="miter" stroke-linecap="butt"/>
</g>
<g clip-path="url(#cp_c2)">
<path d="M603.9 1467.43 L608.53 1467.43 L608.53 1467.31 L613.33 1467.31 L613.33 1467.18 L618.13 1467.18 L618.13 1465.69 L622.93 1465.69 L622.93 1464.3 L627.73 1464.3 L627.73 1463.97 L632.53 1463.97 L632.53 1463.65 L637.33 1463.65 L637.33 1463.33 L642.13 1463.33 L642.13 1463 L646.93 1463 L646.93 1462.33 L651.73 1462.33 L651.73 1461.61 L656.53 1461.61 L656.53 1460.69 L661.33 1460.69 L661.33 1459.55 L666.13 1459.55 L666.13 1458.26 L670.93 1458.26 L670.93 1456.95 L675.73 1456.95 L675.73 1455.47 L680.53 1455.47 L680.53 1453.77 L685.33 1453.77 L685.33 1451.6 L690.13 1451.6 L690.13 1448.12 L694.93 1448.12 L694.93 1444.17 L699.73 1444.17 L699.73 1440.07 L704.53 1440.07 L704.53 1435.34 L709.33 1435.34 L709.33 1429.86 L714.13 1429.86 L714.13 1423.95 L718.93 1423.95 L718.93 1416.68 L723.73 1416.68 L723.73 1409.57 L728.53 1409.57 L728.53 1403.3 L733.33 1403.3 L733.33 1397.89 L738.13 1397.89 L738.13 1390.95 L742.93 1390.95 L742.93 1382.57 L747.73 1382.57 L747.73 1377.79 L752.53 1377.79 L752.53 1372.79 L757.33 1372.79 L757.33 1366.95 L762.13 1366.95 L762.13 1359.52 L766.93 1359.52 L766.93 1351.55 L771.73 1351.55 L771.73 1346.15 L776.53 1346.15 L776.53 1340.54 L781.33 1340.54 L781.33 1338.2 L786.13 1338.2 L786.13 1336.27 L790.93 1336.27 L790.93 1334.28 L795.73 1334.28 L795.73 1332.13 L800.53 1332.13 L800.53 1324.98 L805.33 1324.98 L805.33 1321.52 L810.13 1321.52 L810.13 1320.18 L814.93 1320.18 L814.93 1316.31 L819.73 1316.31 L819.73 1308.65 L824.53 1308.65 L824.53 1305.03 L829.33 1305.03 L829.33 1299.23 L834.13 1299.23 L834.13 1291.44 L838.93 1291.44 L838.93 1285.37 L843.73 1285.37 L843.73 1283.09 L848.53 1283.09 L848.53 1277.49 L853.33 1277.49 L853.33 1271.45 L858.13 1271.45 L858.13 1265.85 L862.93 1265.85 L862.93 1261.11 L867.73 1261.11 L867.73 1262.25 L872.53 1262.25 L872.53 1262.09 L877.33 1262.09 L877.33 1260.94 L882.13 1260.94 L882.13 1264.73 L886.93 1264.73 L886.93 1263.84 L891.73 1263.84 L891.73 1259.73 L896.53 1259.73 L896.53 1251.03 L901.28 1251.03 L901.28 1247.52 L906.38 1247.52 L906.38 1291.51 L911.14 1291.51 L911.14 1438.46 L916.24 1438.46 L916.24 1465.38 L921.7 1465.38 L921.7 1468.5 L1016.4 1468.5" fill="none" stroke="#0000ff" stroke-width="3.7" stroke-linejoin="miter" stroke-linecap="butt"/>
<path d="M644 1468.5 L644 1458 L644.59 1458 L644.59 1457.86 L648.29 1457.86 L648.29 1457.82 L651.99 1457.82 L651.99 1457.08 L655.69 1457.08 L655.69 1455.4 L659.39 1455.4 L659.39 1453.54 L663.09 1453.54 L663.09 1451.73 L666.79 1451.73 L666.79 1450.84 L670.49 1450.84 L670.49 1450.2 L674.19 1450.2 L674.19 1447.67 L677.89 1447.67 L677.89 1444.03 L681.59 1444.03 L681.59 1442.72 L685.29 1442.72 L685.29 1440 L688.99 1440 L688.99 1437.45 L692.69 1437.45 L692.69 1434.41 L696.39 1434.41 L696.39 1429.05 L700.09 1429.05 L700.09 1424.02 L703.79 1424.02 L703.79 1418.08 L707.49 1418.08 L707.49 1414.12 L711.19 1414.12 L711.19 1408.83 L714.89 1408.83 L714.89 1401.3 L718.59 1401.3 L718.59 1395.79 L722.29 1395.79 L722.29 1392 L725.99 1392 L725.99 1387.26 L729.69 1387.26 L729.69 1381.01 L733.39 1381.01 L733.39 1373.44 L737.09 1373.44 L737.09 1368.62 L740.79 1368.62 L740.79 1361.17 L744.49 1361.17 L744.49 1353.26 L748.19 1353.26 L748.19 1348.29 L751.89 1348.29 L751.89 1341.6 L755.59 1341.6 L755.59 1337.53 L759.29 1337.53 L759.29 1330.87 L762.99 1330.87 L762.99 1329.18 L766.69 1329.18 L766.69 1325.26 L770.39 1325.26 L770.39 1321.82 L774.09 1321.82 L774.09 1321.53 L777.79 1321.53 L777.79 1318.49 L781.49 1318.49 L781.49 1322.3 L785.19 1322.3 L785.19 1317.65 L788.89 1317.65 L788.89 1313.38 L792.59 1313.38 L792.59 1317.52 L796.29 1317.52 L796.29 1315.08 L799.99 1315.08 L799.99 1312.68 L803.69 1312.68 L803.69 1312.97 L807.39 1312.97 L807.39 1311.13 L811.09 1311.13 L811.09 1313.05 L814.79 1313.05 L814.79 1313.04 L818.49 1313.04 L818.49 1306.37 L822.19 1306.37 L822.19 1308.28 L825.89 1308.28 L825.89 1309.72 L829.59 1309.72 L829.59 1310.91 L833.29 1310.91 L833.29 1311.52 L836.99 1311.52 L836.99 1309.22 L840.69 1309.22 L840.69 1308.07 L844.39 1308.07 L844.39 1304.48 L848.09 1304.48 L848.09 1305.7 L851.79 1305.7 L851.79 1300.75 L855.49 1300.75 L855.49 1302.88 L859.19 1302.88 L859.19 1300.36 L862.89 1300.36 L862.89 1304.18 L866.59 1304.18 L866.59 1310.24 L870.29 1310.24 L870.29 1306.55 L873.99 1306.55 L873.99 1308.6 L877.69 1308.6 L877.69 1305.41 L881.39 1305.41 L881.39 1305.78 L885.09 1305.78 L885.09 1293.27 L888.79 1293.27 L888.79 1289.75 L892.48 1289.75 L892.48 1270.39 L896.18 1270.39 L896.18 1246.64 L899.52 1246.64 L899.52 1232.56 L903.39 1232.56 L903.39 1284.47 L906.56 1284.47 L906.56 1459.57 L910.08 1459.57 L910.08 1468.5 L1013 1468.5" fill="none" stroke="#ff0000" stroke-width="3.7" stroke-linejoin="miter" stroke-linecap="butt"/>
</g>
<g clip-path="url(#cp_c3)">
<path d="M1067.5 1465.43 L1071.3 1465.43 L1071.3 1463.29 L1076.1 1463.29 L1076.1 1461.97 L1080.9 1461.97 L1080.9 1460.97 L1085.7 1460.97 L1085.7 1460.1 L1090.5 1460.1 L1090.5 1460.3 L1095.3 1460.3 L1095.3 1459.81 L1100.1 1459.81 L1100.1 1458.75 L1104.9 1458.75 L1104.9 1459.34 L1109.7 1459.34 L1109.7 1458.83 L1114.5 1458.83 L1114.5 1457.45 L1119.3 1457.45 L1119.3 1454.26 L1124.1 1454.26 L1124.1 1453.09 L1128.9 1453.09 L1128.9 1450.78 L1133.7 1450.78 L1133.7 1449.21 L1138.5 1449.21 L1138.5 1449.91 L1143.3 1449.91 L1143.3 1445.9 L1148.1 1445.9 L1148.1 1443.49 L1152.9 1443.49 L1152.9 1439.77 L1157.7 1439.77 L1157.7 1436.81 L1162.5 1436.81 L1162.5 1431.74 L1167.3 1431.74 L1167.3 1425.79 L1172.1 1425.79 L1172.1 1423.19 L1176.9 1423.19 L1176.9 1419.8 L1181.7 1419.8 L1181.7 1413.29 L1186.5 1413.29 L1186.5 1403.36 L1191.3 1403.36 L1191.3 1393.4 L1196.1 1393.4 L1196.1 1384.44 L1200.9 1384.44 L1200.9 1380.11 L1205.7 1380.11 L1205.7 1368.36 L1210.5 1368.36 L1210.5 1366.19 L1215.3 1366.19 L1215.3 1359.11 L1220.1 1359.11 L1220.1 1350.18 L1224.9 1350.18 L1224.9 1340.01 L1229.7 1340.01 L1229.7 1333.95 L1234.5 1333.95 L1234.5 1323.95 L1239.3 1323.95 L1239.3 1315.42 L1244.1 1315.42 L1244.1 1311.68 L1248.9 1311.68 L1248.9 1308.64 L1253.7 1308.64 L1253.7 1302.23 L1258.5 1302.23 L1258.5 1298.59 L1263.3 1298.59 L1263.3 1298.2 L1268.1 1298.2 L1268.1 1295.43 L1272.9 1295.43 L1272.9 1286.61 L1277.7 1286.61 L1277.7 1282.93 L1282.5 1282.93 L1282.5 1285.14 L1287.3 1285.14 L1287.3 1285.77 L1292.1 1285.77 L1292.1 1285.88 L1296.9 1285.88 L1296.9 1285.8 L1301.7 1285.8 L1301.7 1289.46 L1306.5 1289.46 L1306.5 1287.81 L1311.3 1287.81 L1311.3 1289.11 L1316.1 1289.11 L1316.1 1291.46 L1320.9 1291.46 L1320.9 1295.36 L1325.7 1295.36 L1325.7 1292.16 L1330.5 1292.16 L1330.5 1290.97 L1335.3 1290.97 L1335.3 1290.58 L1340.1 1290.58 L1340.1 1296.43 L1344.9 1296.43 L1344.9 1297.48 L1349.7 1297.48 L1349.7 1299.94 L1354.5 1299.94 L1354.5 1300.68 L1359.3 1300.68 L1359.3 1300.21 L1364.1 1300.21 L1364.1 1287.11 L1368.85 1287.11 L1368.85 1285.35 L1373.25 1285.35 L1373.25 1281.3 L1378.18 1281.3 L1378.18 1309.99 L1382.05 1309.99 L1382.05 1371.58 L1385.92 1371.58 L1385.92 1428.78 L1389.97 1428.78 L1389.97 1450.77 L1393.84 1450.77 L1393.84 1464.85 L1400 1464.85 L1400 1468.5 L1480 1468.5" fill="none" stroke="#0000ff" stroke-width="3.7" stroke-linejoin="miter" stroke-linecap="butt"/>
<path d="M1070.91 1468.5 L1070.91 1459.61 L1073.55 1459.61 L1073.55 1458.42 L1077.25 1458.42 L1077.25 1456.48 L1080.95 1456.48 L1080.95 1455.16 L1084.65 1455.16 L1084.65 1454.59 L1088.35 1454.59 L1088.35 1453.51 L1092.05 1453.51 L1092.05 1451.27 L1095.75 1451.27 L1095.75 1449.46 L1099.45 1449.46 L1099.45 1448.19 L1103.15 1448.19 L1103.15 1446.68 L1106.85 1446.68 L1106.85 1444.63 L1110.55 1444.63 L1110.55 1444.05 L1114.25 1444.05 L1114.25 1441.84 L1117.95 1441.84 L1117.95 1437.8 L1121.65 1437.8 L1121.65 1435.83 L1125.35 1435.83 L1125.35 1434.54 L1129.05 1434.54 L1129.05 1433.08 L1132.75 1433.08 L1132.75 1429.02 L1136.45 1429.02 L1136.45 1421.49 L1140.15 1421.49 L1140.15 1420.64 L1143.85 1420.64 L1143.85 1414.99 L1147.55 1414.99 L1147.55 1411.58 L1151.25 1411.58 L1151.25 1407.4 L1154.95 1407.4 L1154.95 1403.87 L1158.65 1403.87 L1158.65 1401.97 L1162.35 1401.97 L1162.35 1396 L1166.05 1396 L1166.05 1388.13 L1169.75 1388.13 L1169.75 1381.34 L1173.45 1381.34 L1173.45 1377.06 L1177.15 1377.06 L1177.15 1373.91 L1180.85 1373.91 L1180.85 1370.54 L1184.55 1370.54 L1184.55 1360.22 L1188.25 1360.22 L1188.25 1359.91 L1191.95 1359.91 L1191.95 1357.14 L1195.65 1357.14 L1195.65 1352.31 L1199.35 1352.31 L1199.35 1348.59 L1203.05 1348.59 L1203.05 1344.09 L1206.75 1344.09 L1206.75 1341.07 L1210.45 1341.07 L1210.45 1336.21 L1214.15 1336.21 L1214.15 1334.94 L1217.85 1334.94 L1217.85 1330.52 L1221.55 1330.52 L1221.55 1328.11 L1225.25 1328.11 L1225.25 1324.81 L1228.95 1324.81 L1228.95 1325.6 L1232.65 1325.6 L1232.65 1329.47 L1236.35 1329.47 L1236.35 1329.89 L1240.05 1329.89 L1240.05 1327.67 L1243.75 1327.67 L1243.75 1326.61 L1247.45 1326.61 L1247.45 1326.48 L1251.15 1326.48 L1251.15 1330.32 L1254.85 1330.32 L1254.85 1330.85 L1258.55 1330.85 L1258.55 1327.11 L1262.25 1327.11 L1262.25 1329.59 L1265.95 1329.59 L1265.95 1329.62 L1269.65 1329.62 L1269.65 1329.14 L1273.35 1329.14 L1273.35 1332.19 L1277.05 1332.19 L1277.05 1332.37 L1280.75 1332.37 L1280.75 1335.31 L1284.45 1335.31 L1284.45 1331.7 L1288.15 1331.7 L1288.15 1331.03 L1291.85 1331.03 L1291.85 1329.18 L1295.55 1329.18 L1295.55 1327.17 L1299.25 1327.17 L1299.25 1325.27 L1302.95 1325.27 L1302.95 1323.96 L1306.65 1323.96 L1306.65 1318.6 L1310.35 1318.6 L1310.35 1316.05 L1314.05 1316.05 L1314.05 1318.33 L1317.75 1318.33 L1317.75 1316.2 L1321.45 1316.2 L1321.45 1310.58 L1325.15 1310.58 L1325.15 1314.23 L1328.85 1314.23 L1328.85 1310.75 L1332.55 1310.75 L1332.55 1322.11 L1336.25 1322.11 L1336.25 1323.62 L1339.95 1323.62 L1339.95 1322.06 L1343.65 1322.06 L1343.65 1325.49 L1347.35 1325.49 L1347.35 1327.18 L1351.05 1327.18 L1351.05 1331.55 L1354.75 1331.55 L1354.75 1334.79 L1358.45 1334.79 L1358.45 1335.88 L1362.15 1335.88 L1362.15 1336.58 L1365.85 1336.58 L1365.85 1337.29 L1369.55 1337.29 L1369.55 1331.61 L1373.25 1331.61 L1373.25 1323.19 L1376.77 1323.19 L1376.77 1309.99 L1380.29 1309.99 L1380.29 1300.66 L1387.33 1300.66 L1387.33 1317.03 L1390.85 1317.03 L1390.85 1446.37 L1394.72 1446.37 L1394.72 1468.5 L1476.6 1468.5" fill="none" stroke="#ff0000" stroke-width="3.7" stroke-linejoin="miter" stroke-linecap="butt"/>
</g>
<g clip-path="url(#cp_c4)">
<path d="M1530.6 1467.39 L1531.07 1467.39 L1531.07 1467.34 L1535.87 1467.34 L1535.87 1467.2 L1540.67 1467.2 L1540.67 1467.06 L1545.47 1467.06 L1545.47 1466.45 L1550.27 1466.45 L1550.27 1464.4 L1555.07 1464.4 L1555.07 1463.41 L1559.87 1463.41 L1559.87 1462.62 L1564.67 1462.62 L1564.67 1463.32 L1569.47 1463.32 L1569.47 1462.88 L1574.27 1462.88 L1574.27 1462.1 L1579.07 1462.1 L1579.07 1461.97 L1583.87 1461.97 L1583.87 1461.9 L1588.67 1461.9 L1588.67 1461.34 L1593.47 1461.34 L1593.47 1460.71 L1598.27 1460.71 L1598.27 1460.11 L1603.07 1460.11 L1603.07 1459.51 L1607.87 1459.51 L1607.87 1458.9 L1612.67 1458.9 L1612.67 1458.56 L1617.47 1458.56 L1617.47 1458.33 L1622.27 1458.33 L1622.27 1457.47 L1627.07 1457.47 L1627.07 1456.55 L1631.87 1456.55 L1631.87 1454.82 L1636.67 1454.82 L1636.67 1453.79 L1641.47 1453.79 L1641.47 1452.57 L1646.27 1452.57 L1646.27 1450.05 L1651.07 1450.05 L1651.07 1450.32 L1655.87 1450.32 L1655.87 1449.99 L1660.67 1449.99 L1660.67 1446.42 L1665.47 1446.42 L1665.47 1444.95 L1670.27 1444.95 L1670.27 1443.9 L1675.07 1443.9 L1675.07 1440.37 L1679.87 1440.37 L1679.87 1437.08 L1684.67 1437.08 L1684.67 1433.54 L1689.47 1433.54 L1689.47 1429.76 L1694.27 1429.76 L1694.27 1427.21 L1699.07 1427.21 L1699.07 1424.07 L1703.87 1424.07 L1703.87 1420.61 L1708.67 1420.61 L1708.67 1414.94 L1713.47 1414.94 L1713.47 1410.26 L1718.27 1410.26 L1718.27 1406.57 L1723.07 1406.57 L1723.07 1402.34 L1727.87 1402.34 L1727.87 1398.43 L1732.67 1398.43 L1732.67 1393.53 L1737.47 1393.53 L1737.47 1388.49 L1742.27 1388.49 L1742.27 1386.44 L1747.07 1386.44 L1747.07 1380.44 L1751.87 1380.44 L1751.87 1373.96 L1756.67 1373.96 L1756.67 1371.92 L1761.47 1371.92 L1761.47 1365.99 L1766.27 1365.99 L1766.27 1359.72 L1771.07 1359.72 L1771.07 1355.19 L1775.87 1355.19 L1775.87 1350.28 L1780.67 1350.28 L1780.67 1347.43 L1785.47 1347.43 L1785.47 1341.32 L1790.27 1341.32 L1790.27 1337.61 L1795.07 1337.61 L1795.07 1330.08 L1799.87 1330.08 L1799.87 1325.82 L1804.67 1325.82 L1804.67 1323.25 L1809.47 1323.25 L1809.47 1318.43 L1814.27 1318.43 L1814.27 1316.16 L1819.07 1316.16 L1819.07 1314.06 L1823.87 1314.06 L1823.87 1312.87 L1828.67 1312.87 L1828.67 1310.34 L1833.47 1310.34 L1833.47 1308.95 L1838.27 1308.95 L1838.27 1309.41 L1843.07 1309.41 L1843.07 1312.59 L1847.87 1312.59 L1847.87 1314.4 L1852.67 1314.4 L1852.67 1319.14 L1857.47 1319.14 L1857.47 1323.48 L1862.27 1323.48 L1862.27 1327.41 L1867.07 1327.41 L1867.07 1330.2 L1871.87 1330.2 L1871.87 1333.54 L1876.67 1333.54 L1876.67 1339.4 L1881.47 1339.4 L1881.47 1335 L1886.27 1335 L1886.27 1330.89 L1891.07 1330.89 L1891.07 1328.25 L1895.87 1328.25 L1895.87 1318.48 L1900.65 1318.48 L1900.65 1304.35 L1905.43 1304.35 L1905.43 1291.3 L1910.22 1291.3 L1910.22 1286.96 L1915.22 1286.96 L1915.22 1317.39 L1920 1317.39 L1920 1390.22 L1924.78 1390.22 L1924.78 1448.91 L1929.35 1448.91 L1929.35 1467.17 L1942.83 1467.17 L1942.83 1468.5 L1943.1 1468.5" fill="none" stroke="#0000ff" stroke-width="3.7" stroke-linejoin="miter" stroke-linecap="butt"/>
<path d="M1571.09 1468.5 L1571.09 1455.65 L1573.77 1455.65 L1573.77 1455.37 L1577.47 1455.37 L1577.47 1454.37 L1581.17 1454.37 L1581.17 1453.07 L1584.87 1453.07 L1584.87 1452.27 L1588.57 1452.27 L1588.57 1451.38 L1592.27 1451.38 L1592.27 1450.15 L1595.97 1450.15 L1595.97 1449.46 L1599.67 1449.46 L1599.67 1449.43 L1603.37 1449.43 L1603.37 1446.53 L1607.07 1446.53 L1607.07 1443.76 L1610.77 1443.76 L1610.77 1442.02 L1614.47 1442.02 L1614.47 1441.08 L1618.17 1441.08 L1618.17 1440.25 L1621.87 1440.25 L1621.87 1437.08 L1625.57 1437.08 L1625.57 1434.03 L1629.27 1434.03 L1629.27 1433.97 L1632.97 1433.97 L1632.97 1429.62 L1636.67 1429.62 L1636.67 1427.05 L1640.37 1427.05 L1640.37 1424.43 L1644.07 1424.43 L1644.07 1419.63 L1647.77 1419.63 L1647.77 1416.32 L1651.47 1416.32 L1651.47 1412.71 L1655.17 1412.71 L1655.17 1409.58 L1658.87 1409.58 L1658.87 1407.61 L1662.57 1407.61 L1662.57 1400.44 L1666.27 1400.44 L1666.27 1393.17 L1669.97 1393.17 L1669.97 1387.53 L1673.67 1387.53 L1673.67 1388.16 L1677.37 1388.16 L1677.37 1381.78 L1681.07 1381.78 L1681.07 1377.29 L1684.77 1377.29 L1684.77 1374.89 L1688.47 1374.89 L1688.47 1366.79 L1692.17 1366.79 L1692.17 1366.09 L1695.87 1366.09 L1695.87 1359.26 L1699.57 1359.26 L1699.57 1351.3 L1703.27 1351.3 L1703.27 1349.43 L1706.97 1349.43 L1706.97 1351.11 L1710.67 1351.11 L1710.67 1348.82 L1714.37 1348.82 L1714.37 1338.9 L1718.07 1338.9 L1718.07 1337.97 L1721.77 1337.97 L1721.77 1332.36 L1725.47 1332.36 L1725.47 1328.02 L1729.17 1328.02 L1729.17 1324.56 L1732.87 1324.56 L1732.87 1326.38 L1736.57 1326.38 L1736.57 1325.91 L1740.27 1325.91 L1740.27 1326.68 L1743.97 1326.68 L1743.97 1327.87 L1747.67 1327.87 L1747.67 1326.28 L1751.37 1326.28 L1751.37 1335.13 L1755.07 1335.13 L1755.07 1326.27 L1758.77 1326.27 L1758.77 1325.03 L1762.47 1325.03 L1762.47 1338.92 L1766.17 1338.92 L1766.17 1332.63 L1769.87 1332.63 L1769.87 1338.66 L1773.57 1338.66 L1773.57 1341.8 L1777.27 1341.8 L1777.27 1341.68 L1780.97 1341.68 L1780.97 1345.19 L1784.67 1345.19 L1784.67 1348.32 L1788.37 1348.32 L1788.37 1355.26 L1792.07 1355.26 L1792.07 1355.73 L1795.77 1355.73 L1795.77 1360.23 L1799.47 1360.23 L1799.47 1365.48 L1803.17 1365.48 L1803.17 1369.13 L1806.87 1369.13 L1806.87 1370.72 L1810.57 1370.72 L1810.57 1378.21 L1814.27 1378.21 L1814.27 1380.34 L1817.97 1380.34 L1817.97 1382.65 L1821.67 1382.65 L1821.67 1385.75 L1825.37 1385.75 L1825.37 1389.23 L1829.07 1389.23 L1829.07 1392.97 L1832.77 1392.97 L1832.77 1392.74 L1836.47 1392.74 L1836.47 1395.24 L1840.17 1395.24 L1840.17 1398.96 L1843.87 1398.96 L1843.87 1401.39 L1847.57 1401.39 L1847.57 1401.48 L1851.27 1401.48 L1851.27 1403.2 L1854.97 1403.2 L1854.97 1404.8 L1858.67 1404.8 L1858.67 1404 L1862.37 1404 L1862.37 1402.7 L1866.07 1402.7 L1866.07 1400.87 L1869.77 1400.87 L1869.77 1397.9 L1873.47 1397.9 L1873.47 1394.47 L1877.17 1394.47 L1877.17 1388.82 L1880.87 1388.82 L1880.87 1375 L1884.57 1375 L1884.57 1368.48 L1888.26 1368.48 L1888.26 1354.78 L1891.96 1354.78 L1891.96 1343.48 L1895.65 1343.48 L1895.65 1323.91 L1899.35 1323.91 L1899.35 1303.26 L1903.04 1303.26 L1903.04 1285.87 L1906.74 1285.87 L1906.74 1281.52 L1910.87 1281.52 L1910.87 1319.57 L1914.57 1319.57 L1914.57 1452.17 L1918.48 1452.17 L1918.48 1468.5 L1939.7 1468.5" fill="none" stroke="#ff0000" stroke-width="3.7" stroke-linejoin="miter" stroke-linecap="butt"/>
</g>
<g clip-path="url(#cp_d1)">
<path d="M197.58 1904.45 L205.77 1904.45 L205.77 1903.95 L213.95 1903.95 L213.95 1903.2 L222.14 1903.2 L222.14 1900.2 L230.33 1900.2 L230.33 1891.95 L238.51 1891.95 L238.51 1876.94 L246.7 1876.94 L246.7 1854.68 L254.89 1854.68 L254.89 1838.92 L263.07 1838.92 L263.07 1833.92 L271.26 1833.92 L271.26 1819.66 L279.45 1819.66 L279.45 1814.66 L287.63 1814.66 L287.63 1817.66 L295.82 1817.66 L295.82 1816.91 L304.01 1816.91 L304.01 1800.15 L312.19 1800.15 L312.19 1788.15 L320.38 1788.15 L320.38 1749.63 L328.57 1749.63 L328.57 1708.86 L336.75 1708.86 L336.75 1680.59 L344.94 1680.59 L344.94 1692.1 L353.13 1692.1 L353.13 1684.59 L361.31 1684.59 L361.31 1675.59 L369.5 1675.59 L369.5 1648.33 L377.69 1648.33 L377.69 1652.58 L385.87 1652.58 L385.87 1652.58 L394.06 1652.58 L394.06 1649.58 L402.25 1649.58 L402.25 1604.55 L410.43 1604.55 L410.43 1557.53 L418.62 1557.53 L418.62 1904.95 L426.81 1904.95" fill="none" stroke="#0000ff" stroke-width="3.7" stroke-linejoin="miter" stroke-linecap="butt"/>
<path d="M218.69 1904.45 L226.83 1904.45 L226.83 1904.45 L234.97 1904.45 L234.97 1896.45 L243.11 1896.45 L243.11 1878.94 L251.26 1878.94 L251.26 1850.68 L259.4 1850.68 L259.4 1808.91 L267.54 1808.91 L267.54 1799.65 L275.68 1799.65 L275.68 1778.89 L283.82 1778.89 L283.82 1786.4 L291.96 1786.4 L291.96 1782.14 L300.11 1782.14 L300.11 1797.65 L308.25 1797.65 L308.25 1798.15 L316.39 1798.15 L316.39 1778.39 L324.53 1778.39 L324.53 1726.37 L332.67 1726.37 L332.67 1727.12 L340.81 1727.12 L340.81 1710.61 L348.95 1710.61 L348.95 1722.61 L357.1 1722.61 L357.1 1701.35 L365.24 1701.35 L365.24 1676.34 L373.38 1676.34 L373.38 1681.34 L381.52 1681.34 L381.52 1670.84 L389.66 1670.84 L389.66 1692.1 L397.8 1692.1 L397.8 1688.1 L405.95 1688.1 L405.95 1643.07 L414.09 1643.07 L414.09 1516.76 L422.23 1516.76 L422.23 1903.2 L430.37 1903.2 L430.37 1904.7 L438.51 1904.7" fill="none" stroke="#ff0000" stroke-width="3.7" stroke-linejoin="miter" stroke-linecap="butt"/>
</g>
<g clip-path="url(#cp_d2)">
<path d="M659.84 1904.51 L668.02 1904.51 L668.02 1904.18 L676.21 1904.18 L676.21 1903.35 L684.39 1903.35 L684.39 1895.9 L692.57 1895.9 L692.57 1876.02 L700.75 1876.02 L700.75 1854.99 L708.94 1854.99 L708.94 1829.65 L717.12 1829.65 L717.12 1817.23 L725.3 1817.23 L725.3 1773 L733.48 1773 L733.48 1779.96 L741.66 1779.96 L741.66 1773.83 L749.85 1773.83 L749.85 1757.6 L758.03 1757.6 L758.03 1760.58 L766.21 1760.58 L766.21 1768.36 L774.39 1768.36 L774.39 1790.72 L782.58 1790.72 L782.58 1776.65 L790.76 1776.65 L790.76 1754.78 L798.94 1754.78 L798.94 1767.87 L807.12 1767.87 L807.12 1767.87 L815.3 1767.87 L815.3 1738.05 L823.49 1738.05 L823.49 1712.05 L831.67 1712.05 L831.67 1734.91 L839.85 1734.91 L839.85 1773.33 L848.03 1773.33 L848.03 1752.63 L856.22 1752.63 L856.22 1746.83 L864.4 1746.83 L864.4 1755.94 L872.58 1755.94 L872.58 1765.05 L880.76 1765.05 L880.76 1783.27 L888.94 1783.27 L888.94 1778.8 L897.13 1778.8 L897.13 1742.69 L905.31 1742.69 L905.31 1683.89 L913.49 1683.89 L913.49 1830.14 L921.67 1830.14 L921.67 1904.18 L929.86 1904.18" fill="none" stroke="#0000ff" stroke-width="3.7" stroke-linejoin="miter" stroke-linecap="butt"/>
<path d="M680.88 1904.51 L689.01 1904.51 L689.01 1901.37 L697.14 1901.37 L697.14 1890.93 L705.28 1890.93 L705.28 1861.95 L713.41 1861.95 L713.41 1841.24 L721.54 1841.24 L721.54 1783.77 L729.67 1783.77 L729.67 1760.91 L737.81 1760.91 L737.81 1739.38 L745.94 1739.38 L745.94 1733.08 L754.07 1733.08 L754.07 1738.05 L762.2 1738.05 L762.2 1752.96 L770.34 1752.96 L770.34 1746.83 L778.47 1746.83 L778.47 1746 L786.6 1746 L786.6 1773.33 L794.73 1773.33 L794.73 1781.61 L802.87 1781.61 L802.87 1764.22 L811 1764.22 L811 1785.76 L819.13 1785.76 L819.13 1782.11 L827.26 1782.11 L827.26 1763.89 L835.4 1763.89 L835.4 1772.17 L843.53 1772.17 L843.53 1770.85 L851.66 1770.85 L851.66 1741.86 L859.79 1741.86 L859.79 1760.91 L867.93 1760.91 L867.93 1776.15 L876.06 1776.15 L876.06 1758.43 L884.19 1758.43 L884.19 1740.7 L892.32 1740.7 L892.32 1679.42 L900.46 1679.42 L900.46 1605.38 L908.59 1605.38 L908.59 1883.48 L916.72 1883.48 L916.72 1904.51 L924.85 1904.51" fill="none" stroke="#ff0000" stroke-width="3.7" stroke-linejoin="miter" stroke-linecap="butt"/>
</g>
<g clip-path="url(#cp_d3)">
<path d="M1123.14 1904.56 L1131.32 1904.56 L1131.32 1903.68 L1139.51 1903.68 L1139.51 1902.45 L1147.69 1902.45 L1147.69 1897.7 L1155.87 1897.7 L1155.87 1883.09 L1164.06 1883.09 L1164.06 1861.1 L1172.24 1861.1 L1172.24 1850.01 L1180.42 1850.01 L1180.42 1839.1 L1188.61 1839.1 L1188.61 1795.98 L1196.79 1795.98 L1196.79 1783.31 L1204.97 1783.31 L1204.97 1771.7 L1213.16 1771.7 L1213.16 1752.34 L1221.34 1752.34 L1221.34 1765.71 L1229.52 1765.71 L1229.52 1742.66 L1237.71 1742.66 L1237.71 1744.6 L1245.89 1744.6 L1245.89 1739.67 L1254.07 1739.67 L1254.07 1731.22 L1262.26 1731.22 L1262.26 1766.07 L1270.44 1766.07 L1270.44 1756.91 L1278.62 1756.91 L1278.62 1726.12 L1286.8 1726.12 L1286.8 1727 L1294.99 1727 L1294.99 1754.1 L1303.17 1754.1 L1303.17 1738.79 L1311.35 1738.79 L1311.35 1759.91 L1319.54 1759.91 L1319.54 1788.94 L1327.72 1788.94 L1327.72 1778.91 L1335.9 1778.91 L1335.9 1796.51 L1344.09 1796.51 L1344.09 1798.09 L1352.27 1798.09 L1352.27 1807.95 L1360.45 1807.95 L1360.45 1817.98 L1368.64 1817.98 L1368.64 1827.31 L1376.82 1827.31 L1376.82 1831.18 L1385 1831.18 L1385 1834.17 L1393.19 1834.17 L1393.19 1784.19 L1401.37 1784.19 L1401.37 1810.94 L1409.55 1810.94 L1409.55 1904.56 L1417.74 1904.56" fill="none" stroke="#0000ff" stroke-width="3.7" stroke-linejoin="miter" stroke-linecap="butt"/>
<path d="M1144.24 1904.56 L1152.37 1904.56 L1152.37 1902.1 L1160.5 1902.1 L1160.5 1900.16 L1168.63 1900.16 L1168.63 1876.05 L1176.76 1876.05 L1176.76 1861.98 L1184.89 1861.98 L1184.89 1832.94 L1193.02 1832.94 L1193.02 1777.86 L1201.15 1777.86 L1201.15 1753.75 L1209.28 1753.75 L1209.28 1712.74 L1217.42 1712.74 L1217.42 1703.94 L1225.55 1703.94 L1225.55 1660.83 L1233.68 1660.83 L1233.68 1692.68 L1241.81 1692.68 L1241.81 1725.59 L1249.94 1725.59 L1249.94 1720.84 L1258.07 1720.84 L1258.07 1756.74 L1266.2 1756.74 L1266.2 1736.68 L1274.33 1736.68 L1274.33 1775.74 L1282.46 1775.74 L1282.46 1785.78 L1290.59 1785.78 L1290.59 1801.61 L1298.72 1801.61 L1298.72 1776.62 L1306.85 1776.62 L1306.85 1807.07 L1314.98 1807.07 L1314.98 1810.06 L1323.11 1810.06 L1323.11 1808.83 L1331.24 1808.83 L1331.24 1800.03 L1339.37 1800.03 L1339.37 1816.75 L1347.5 1816.75 L1347.5 1823.61 L1355.63 1823.61 L1355.63 1801.61 L1363.76 1801.61 L1363.76 1814.99 L1371.89 1814.99 L1371.89 1800.73 L1380.02 1800.73 L1380.02 1799.85 L1388.15 1799.85 L1388.15 1742.84 L1396.28 1742.84 L1396.28 1774.86 L1404.41 1774.86 L1404.41 1904.56 L1412.54 1904.56" fill="none" stroke="#ff0000" stroke-width="3.7" stroke-linejoin="miter" stroke-linecap="butt"/>
</g>
<g clip-path="url(#cp_d4)">
<path d="M1586.7 1904.55 L1594.88 1904.55 L1594.88 1903.56 L1603.06 1903.56 L1603.06 1902.58 L1611.25 1902.58 L1611.25 1897.27 L1619.43 1897.27 L1619.43 1888.81 L1627.61 1888.81 L1627.61 1880.94 L1635.79 1880.94 L1635.79 1873.47 L1643.97 1873.47 L1643.97 1864.22 L1652.16 1864.22 L1652.16 1853.01 L1660.34 1853.01 L1660.34 1828.82 L1668.52 1828.82 L1668.52 1800.3 L1676.7 1800.3 L1676.7 1823.9 L1684.89 1823.9 L1684.89 1798.92 L1693.07 1798.92 L1693.07 1762.93 L1701.25 1762.93 L1701.25 1765.29 L1709.43 1765.29 L1709.43 1756.05 L1717.61 1756.05 L1717.61 1757.42 L1725.8 1757.42 L1725.8 1775.71 L1733.98 1775.71 L1733.98 1715.33 L1742.16 1715.33 L1742.16 1758.01 L1750.34 1758.01 L1750.34 1730.87 L1758.53 1730.87 L1758.53 1743.26 L1766.71 1743.26 L1766.71 1757.42 L1774.89 1757.42 L1774.89 1754.08 L1783.07 1754.08 L1783.07 1775.71 L1791.25 1775.71 L1791.25 1756.44 L1799.44 1756.44 L1799.44 1768.24 L1807.62 1768.24 L1807.62 1794.4 L1815.8 1794.4 L1815.8 1765.88 L1823.98 1765.88 L1823.98 1800.3 L1832.17 1800.3 L1832.17 1822.53 L1840.35 1822.53 L1840.35 1798.33 L1848.53 1798.33 L1848.53 1813.48 L1856.71 1813.48 L1856.71 1821.35 L1864.89 1821.35 L1864.89 1846.52 L1873.08 1846.52 L1873.08 1842.59 L1881.26 1842.59 L1881.26 1864.22 L1889.44 1864.22 L1889.44 1864.22 L1897.62 1864.22 L1897.62 1864.22 L1905.81 1864.22 L1905.81 1872.68 L1913.99 1872.68 L1913.99 1865.6 L1922.17 1865.6 L1922.17 1880.94 L1930.35 1880.94 L1930.35 1904.55 L1938.53 1904.55" fill="none" stroke="#0000ff" stroke-width="3.7" stroke-linejoin="miter" stroke-linecap="butt"/>
<path d="M1608.18 1904.55 L1616.3 1904.55 L1616.3 1903.17 L1624.42 1903.17 L1624.42 1900.61 L1632.55 1900.61 L1632.55 1890.78 L1640.67 1890.78 L1640.67 1880.94 L1648.79 1880.94 L1648.79 1856.95 L1656.92 1856.95 L1656.92 1807.18 L1665.04 1807.18 L1665.04 1785.16 L1673.16 1785.16 L1673.16 1715.72 L1681.29 1715.72 L1681.29 1728.51 L1689.41 1728.51 L1689.41 1703.92 L1697.53 1703.92 L1697.53 1702.55 L1705.66 1702.55 L1705.66 1715.72 L1713.78 1715.72 L1713.78 1705.3 L1721.9 1705.3 L1721.9 1672.85 L1730.03 1672.85 L1730.03 1682.68 L1738.15 1682.68 L1738.15 1700.97 L1746.27 1700.97 L1746.27 1732.44 L1754.39 1732.44 L1754.39 1750.15 L1762.52 1750.15 L1762.52 1752.11 L1770.64 1752.11 L1770.64 1780.04 L1778.76 1780.04 L1778.76 1803.84 L1786.89 1803.84 L1786.89 1774.14 L1795.01 1774.14 L1795.01 1807.58 L1803.13 1807.58 L1803.13 1816.43 L1811.26 1816.43 L1811.26 1874.06 L1819.38 1874.06 L1819.38 1859.31 L1827.5 1859.31 L1827.5 1868.75 L1835.63 1868.75 L1835.63 1875.63 L1843.75 1875.63 L1843.75 1876.03 L1851.87 1876.03 L1851.87 1872.09 L1860 1872.09 L1860 1859.9 L1868.12 1859.9 L1868.12 1874.06 L1876.24 1874.06 L1876.24 1869.73 L1884.37 1869.73 L1884.37 1860.29 L1892.49 1860.29 L1892.49 1860.88 L1900.61 1860.88 L1900.61 1849.47 L1908.74 1849.47 L1908.74 1835.7 L1916.86 1835.7 L1916.86 1881.93 L1924.98 1881.93 L1924.98 1904.94 L1933.11 1904.94" fill="none" stroke="#ff0000" stroke-width="3.7" stroke-linejoin="miter" stroke-linecap="butt"/>
</g>
<line x1="141" y1="501.4" x2="155" y2="501.4" stroke="#111111" stroke-width="1.15"/>
<line x1="141" y1="485.97" x2="148" y2="485.97" stroke="#111111" stroke-width="1.15"/>
<line x1="141" y1="470.53" x2="148" y2="470.53" stroke="#111111" stroke-width="1.15"/>
<line x1="141" y1="455.1" x2="148" y2="455.1" stroke="#111111" stroke-width="1.15"/>
<line x1="141" y1="439.66" x2="155" y2="439.66" stroke="#111111" stroke-width="1.15"/>
<line x1="141" y1="424.23" x2="148" y2="424.23" stroke="#111111" stroke-width="1.15"/>
<line x1="141" y1="408.79" x2="148" y2="408.79" stroke="#111111" stroke-width="1.15"/>
<line x1="141" y1="393.36" x2="148" y2="393.36" stroke="#111111" stroke-width="1.15"/>
<line x1="141" y1="377.92" x2="155" y2="377.92" stroke="#111111" stroke-width="1.15"/>
<line x1="141" y1="362.49" x2="148" y2="362.49" stroke="#111111" stroke-width="1.15"/>
<line x1="141" y1="347.05" x2="148" y2="347.05" stroke="#111111" stroke-width="1.15"/>
<line x1="141" y1="331.62" x2="148" y2="331.62" stroke="#111111" stroke-width="1.15"/>
<line x1="141" y1="316.18" x2="155" y2="316.18" stroke="#111111" stroke-width="1.15"/>
<line x1="141" y1="300.75" x2="148" y2="300.75" stroke="#111111" stroke-width="1.15"/>
<line x1="141" y1="285.32" x2="148" y2="285.32" stroke="#111111" stroke-width="1.15"/>
<line x1="141" y1="269.88" x2="148" y2="269.88" stroke="#111111" stroke-width="1.15"/>
<line x1="141" y1="254.45" x2="155" y2="254.45" stroke="#111111" stroke-width="1.15"/>
<line x1="141" y1="239.01" x2="148" y2="239.01" stroke="#111111" stroke-width="1.15"/>
<line x1="141" y1="223.58" x2="148" y2="223.58" stroke="#111111" stroke-width="1.15"/>
<line x1="141" y1="208.14" x2="148" y2="208.14" stroke="#111111" stroke-width="1.15"/>
<line x1="141" y1="192.71" x2="155" y2="192.71" stroke="#111111" stroke-width="1.15"/>
<line x1="141" y1="177.27" x2="148" y2="177.27" stroke="#111111" stroke-width="1.15"/>
<line x1="141" y1="161.84" x2="148" y2="161.84" stroke="#111111" stroke-width="1.15"/>
<line x1="141" y1="146.4" x2="148" y2="146.4" stroke="#111111" stroke-width="1.15"/>
<line x1="141" y1="130.97" x2="155" y2="130.97" stroke="#111111" stroke-width="1.15"/>
<line x1="141" y1="115.53" x2="148" y2="115.53" stroke="#111111" stroke-width="1.15"/>
<line x1="141" y1="100.1" x2="148" y2="100.1" stroke="#111111" stroke-width="1.15"/>
<text transform="translate(160.9 141) scale(1.0600 1)" font-size="32">a1</text>
<text transform="translate(623.5 141) scale(1.0600 1)" font-size="32">a2</text>
<text transform="translate(1087.1 141) scale(1.0600 1)" font-size="32">a3</text>
<text transform="translate(1550.2 141) scale(1.0600 1)" font-size="32">a4</text>
<text transform="translate(159.4 582) scale(1.0600 1)" font-size="32">b1</text>
<text transform="translate(621.9 582) scale(1.0600 1)" font-size="32">b2</text>
<text transform="translate(1085.6 582) scale(1.0600 1)" font-size="32">b3</text>
<text transform="translate(1549.1 582) scale(1.0600 1)" font-size="32">b4</text>
<text transform="translate(157.6 1111.3) scale(1.0600 1)" font-size="32">c1</text>
<text transform="translate(619.5 1111.3) scale(1.0600 1)" font-size="32">c2</text>
<text transform="translate(1077.6 1111.3) scale(1.0600 1)" font-size="32">c3</text>
<text transform="translate(1547.2 1111.3) scale(1.0600 1)" font-size="32">c4</text>
<text transform="translate(153.1 1552.1) scale(1.0600 1)" font-size="32">d1</text>
<text transform="translate(616.6 1552.1) scale(1.0600 1)" font-size="32">d2</text>
<text transform="translate(1080.6 1552.1) scale(1.0600 1)" font-size="32">d3</text>
<text transform="translate(1542.9 1552.1) scale(1.0600 1)" font-size="32">d4</text>
<text transform="translate(38 296.75) rotate(-90) scale(0.9430 1)" font-size="35.4" text-anchor="middle">Experiment</text>
<text transform="translate(79.7 300.75) rotate(-90) scale(0.9430 1)" font-size="35.4" text-anchor="middle">Normalized Counts</text>
<text transform="translate(38 738.4) rotate(-90) scale(0.9430 1)" font-size="35.4" text-anchor="middle">Simulation</text>
<text transform="translate(79.7 742.4) rotate(-90) scale(0.9430 1)" font-size="35.4" text-anchor="middle">Normalized Counts</text>
<text transform="translate(38 1263.65) rotate(-90) scale(0.9430 1)" font-size="35.4" text-anchor="middle">Experiment</text>
<text transform="translate(79.7 1267.65) rotate(-90) scale(0.9430 1)" font-size="35.4" text-anchor="middle">Normalized Counts</text>
<text transform="translate(38 1700.2) rotate(-90) scale(0.9430 1)" font-size="35.4" text-anchor="middle">Simulation</text>
<text transform="translate(79.7 1704.2) rotate(-90) scale(0.9430 1)" font-size="35.4" text-anchor="middle">Normalized Counts</text>
<line x1="724.8" y1="17.6" x2="783.2" y2="17.6" stroke="#0000ff" stroke-width="5"/>
<text x="789" y="29.9" font-size="41.5" fill="#0000ff" textLength="276" lengthAdjust="spacingAndGlyphs">Hydrogenated</text>
<line x1="1091.2" y1="17.6" x2="1149.3" y2="17.6" stroke="#ff0000" stroke-width="5"/>
<text x="1154.7" y="29.9" font-size="41.5" fill="#ff0000" textLength="214" lengthAdjust="spacingAndGlyphs">Deuterated</text>
<line x1="163.8" y1="76.2" x2="200" y2="76.2" stroke="#0000ff" stroke-width="3.7"/>
<text transform="translate(206.6 87.4)" font-size="39" fill="#0000ff">0.7 eV</text>
<line x1="333.6" y1="76.2" x2="369" y2="76.2" stroke="#ff0000" stroke-width="3.7"/>
<text transform="translate(375.6 87.4)" font-size="39" fill="#ff0000">0.7 eV</text>
<line x1="636.7" y1="76.2" x2="672.5" y2="76.2" stroke="#0000ff" stroke-width="3.7"/>
<text transform="translate(679.4 87.4)" font-size="39" fill="#0000ff">1.2 eV</text>
<line x1="805.7" y1="76.2" x2="842" y2="76.2" stroke="#ff0000" stroke-width="3.7"/>
<text transform="translate(847.6 87.4)" font-size="39" fill="#ff0000">1.1 eV</text>
<line x1="1102.7" y1="76.2" x2="1138.9" y2="76.2" stroke="#0000ff" stroke-width="3.7"/>
<text transform="translate(1145.4 87.4)" font-size="39" fill="#0000ff">1.5 eV</text>
<line x1="1272.2" y1="76.2" x2="1308.4" y2="76.2" stroke="#ff0000" stroke-width="3.7"/>
<text transform="translate(1314.8 87.4)" font-size="39" fill="#ff0000">1.5 eV</text>
<line x1="1565.2" y1="76.2" x2="1601.4" y2="76.2" stroke="#0000ff" stroke-width="3.7"/>
<text transform="translate(1608 87.4)" font-size="39" fill="#0000ff">2.3 eV</text>
<line x1="1734.7" y1="76.2" x2="1771" y2="76.2" stroke="#ff0000" stroke-width="3.7"/>
<text transform="translate(1777 87.4)" font-size="39" fill="#ff0000">2.2 eV</text>
<text transform="translate(1961.6 258.5) rotate(90)" font-size="54.5" textLength="528" lengthAdjust="spacingAndGlyphs">Angular Distributions</text>
<text transform="translate(1961.6 1134) rotate(90)" font-size="54.5" textLength="709" lengthAdjust="spacingAndGlyphs">Internal Energy Distributions</text>
</svg>
</body></html>
